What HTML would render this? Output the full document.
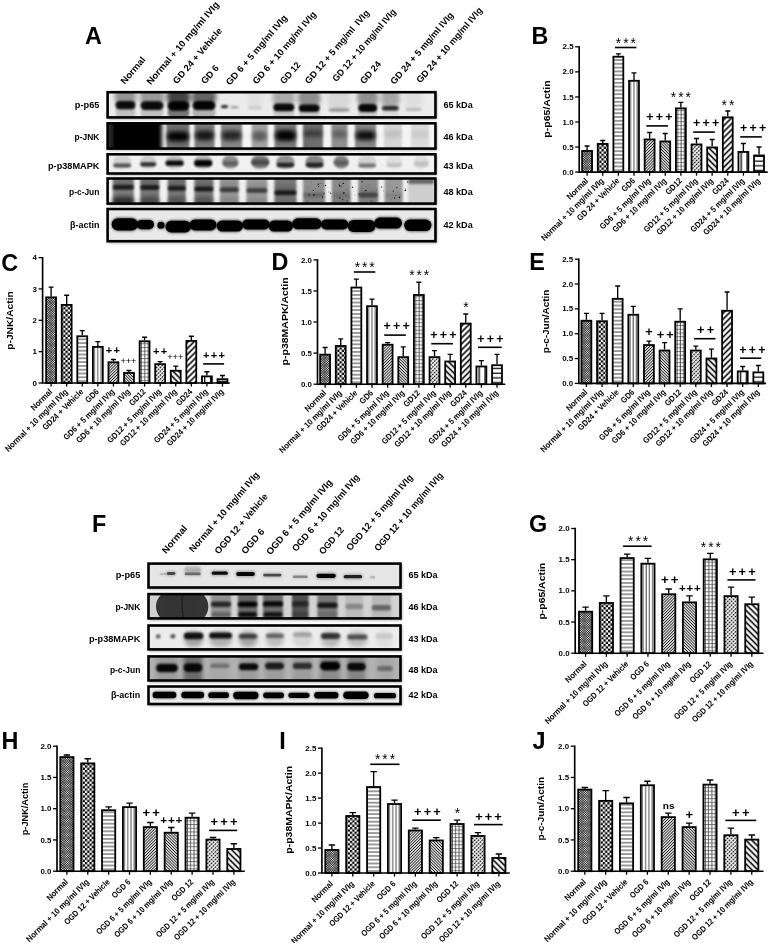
<!DOCTYPE html>
<html lang="en"><head><meta charset="utf-8"><title>Figure</title>
<style>html,body{margin:0;padding:0;background:#fff}svg{display:block;font-family:"Liberation Sans", sans-serif}</style></head><body>
<svg width="770" height="943" viewBox="0 0 770 943">
<rect width="770" height="943" fill="#fff"/>

<defs>
<pattern id="p1" width="1.65" height="1.65" patternUnits="userSpaceOnUse" patternTransform="rotate(45)"><rect width="1.65" height="1.65" fill="#fff"/><rect width="0.56" height="1.65" fill="#000"/><rect width="1.65" height="0.56" fill="#000"/></pattern>
<pattern id="p2" width="4.6" height="4.6" patternUnits="userSpaceOnUse"><rect width="4.6" height="4.6" fill="#fff"/><rect width="2.3" height="2.3" fill="#000"/><rect x="2.3" y="2.3" width="2.3" height="2.3" fill="#000"/></pattern>
<pattern id="p3" width="4" height="3.8" patternUnits="userSpaceOnUse"><rect width="4" height="3.8" fill="#fff"/><rect y="1.4" width="4" height="1" fill="#3a3a3a"/></pattern>
<pattern id="p4" width="3.2" height="4" patternUnits="userSpaceOnUse"><rect width="3.2" height="4" fill="#fff"/><rect x="2.1" width="0.9" height="4" fill="#3a3a3a"/></pattern>
<pattern id="p5" width="2.05" height="2.05" patternUnits="userSpaceOnUse" patternTransform="rotate(-45)"><rect width="2.05" height="2.05" fill="#fff"/><rect y="0.6" width="2.05" height="0.9" fill="#111"/></pattern>
<pattern id="p6" width="2.05" height="2.05" patternUnits="userSpaceOnUse" patternTransform="rotate(45)"><rect width="2.05" height="2.05" fill="#fff"/><rect y="0.6" width="2.05" height="0.9" fill="#111"/></pattern>
<pattern id="p7" width="3.3" height="3.7" patternUnits="userSpaceOnUse"><rect width="3.3" height="3.7" fill="#fff"/><rect y="1.2" width="3.3" height="0.72" fill="#555"/><rect x="2.3" width="0.8" height="3.7" fill="#2a2a2a"/></pattern>
<pattern id="p8" width="2.7" height="2.7" patternUnits="userSpaceOnUse" patternTransform="rotate(-45)"><rect width="2.7" height="2.7" fill="#fff"/><rect y="0.8" width="2.7" height="1.25" fill="#111"/><rect x="0" width="0.75" height="2.7" fill="#fff"/></pattern>
<pattern id="p9" width="4.2" height="4.2" patternUnits="userSpaceOnUse" patternTransform="rotate(45)"><rect width="4.2" height="4.2" fill="#fff"/><rect y="1.3" width="4.2" height="1.6" fill="#000"/></pattern>
<pattern id="p10" width="4.2" height="4.2" patternUnits="userSpaceOnUse" patternTransform="rotate(-45)"><rect width="4.2" height="4.2" fill="#fff"/><rect y="1.3" width="4.2" height="1.6" fill="#000"/></pattern>
<pattern id="p11" width="5.9" height="4" patternUnits="userSpaceOnUse"><rect width="5.9" height="4" fill="#fff"/><rect x="3.0" width="1.3" height="4" fill="#000"/></pattern>
<pattern id="p12" width="4" height="4.7" patternUnits="userSpaceOnUse"><rect width="4" height="4.7" fill="#fff"/><rect y="2.5" width="4" height="1.2" fill="#000"/></pattern>
<filter id="b1" x="-50%" y="-50%" width="200%" height="200%"><feGaussianBlur stdDeviation="1.1"/></filter>
<filter id="b2" x="-50%" y="-50%" width="200%" height="200%"><feGaussianBlur stdDeviation="2"/></filter>
<filter id="b3" x="-50%" y="-50%" width="200%" height="200%"><feGaussianBlur stdDeviation="3.2"/></filter>
<filter id="b0" x="-50%" y="-50%" width="200%" height="200%"><feGaussianBlur stdDeviation="0.6"/></filter>
</defs>

<g id="B">
<path d="M587.10 150.05V146.04M584.61 146.04H589.59" stroke="#000" stroke-width="1.35" fill="none"/>
<g transform="translate(581.25 172.10)"><rect x="0.9" y="-21.15" width="9.90" height="21.15" fill="url(#p1)" stroke="#000" stroke-width="1.8"/></g>
<path d="M587.10 172.10v3.6" stroke="#000" stroke-width="1.3"/>
<text transform="translate(588.80 181.40) rotate(-45) scale(0.915 1)" font-size="8.4" font-weight="bold" text-anchor="end" fill="#000" >Normal</text>
<path d="M602.73 143.03V140.52M600.24 140.52H605.22" stroke="#000" stroke-width="1.35" fill="none"/>
<g transform="translate(596.88 172.10)"><rect x="0.9" y="-28.17" width="9.90" height="28.17" fill="url(#p2)" stroke="#000" stroke-width="1.8"/></g>
<path d="M602.73 172.10v3.6" stroke="#000" stroke-width="1.3"/>
<text transform="translate(604.43 181.40) rotate(-45) scale(0.915 1)" font-size="8.4" font-weight="bold" text-anchor="end" fill="#000" >Normal + 10 mg/ml IVIg</text>
<path d="M618.36 55.82V53.82M615.87 53.82H620.85" stroke="#000" stroke-width="1.35" fill="none"/>
<g transform="translate(612.51 172.10)"><rect x="0.9" y="-115.38" width="9.90" height="115.38" fill="url(#p3)" stroke="#000" stroke-width="1.8"/></g>
<path d="M618.36 172.10v3.6" stroke="#000" stroke-width="1.3"/>
<text transform="translate(620.06 181.40) rotate(-45) scale(0.895 1)" font-size="8.4" font-weight="bold" text-anchor="end" fill="#000" >GD 24 + Vehicle</text>
<path d="M633.99 79.88V72.86M631.50 72.86H636.48" stroke="#000" stroke-width="1.35" fill="none"/>
<g transform="translate(628.14 172.10)"><rect x="0.9" y="-91.32" width="9.90" height="91.32" fill="url(#p4)" stroke="#000" stroke-width="1.8"/></g>
<path d="M633.99 172.10v3.6" stroke="#000" stroke-width="1.3"/>
<text transform="translate(635.69 181.40) rotate(-45) scale(0.895 1)" font-size="8.4" font-weight="bold" text-anchor="end" fill="#000" >GD6</text>
<path d="M649.62 138.52V132.51M647.13 132.51H652.11" stroke="#000" stroke-width="1.35" fill="none"/>
<g transform="translate(643.77 172.10)"><rect x="0.9" y="-32.68" width="9.90" height="32.68" fill="url(#p5)" stroke="#000" stroke-width="1.8"/></g>
<path d="M649.62 172.10v3.6" stroke="#000" stroke-width="1.3"/>
<text transform="translate(651.32 181.40) rotate(-45) scale(0.895 1)" font-size="8.4" font-weight="bold" text-anchor="end" fill="#000" >GD6 + 5 mg/ml IVIg</text>
<path d="M665.25 140.52V133.51M662.76 133.51H667.74" stroke="#000" stroke-width="1.35" fill="none"/>
<g transform="translate(659.40 172.10)"><rect x="0.9" y="-30.68" width="9.90" height="30.68" fill="url(#p6)" stroke="#000" stroke-width="1.8"/></g>
<path d="M665.25 172.10v3.6" stroke="#000" stroke-width="1.3"/>
<text transform="translate(666.95 181.40) rotate(-45) scale(0.895 1)" font-size="8.4" font-weight="bold" text-anchor="end" fill="#000" >GD6 + 10 mg/ml IVIg</text>
<path d="M680.88 107.45V102.43M678.39 102.43H683.37" stroke="#000" stroke-width="1.35" fill="none"/>
<g transform="translate(675.03 172.10)"><rect x="0.9" y="-63.75" width="9.90" height="63.75" fill="url(#p7)" stroke="#000" stroke-width="1.8"/></g>
<path d="M680.88 172.10v3.6" stroke="#000" stroke-width="1.3"/>
<text transform="translate(682.58 181.40) rotate(-45) scale(0.895 1)" font-size="8.4" font-weight="bold" text-anchor="end" fill="#000" >GD12</text>
<path d="M696.51 143.53V138.52M694.02 138.52H699.00" stroke="#000" stroke-width="1.35" fill="none"/>
<g transform="translate(690.66 172.10)"><rect x="0.9" y="-27.67" width="9.90" height="27.67" fill="url(#p8)" stroke="#000" stroke-width="1.8"/></g>
<path d="M696.51 172.10v3.6" stroke="#000" stroke-width="1.3"/>
<text transform="translate(698.21 181.40) rotate(-45) scale(0.895 1)" font-size="8.4" font-weight="bold" text-anchor="end" fill="#000" >GD12 + 5 mg/ml IVIg</text>
<path d="M712.14 146.54V139.52M709.65 139.52H714.63" stroke="#000" stroke-width="1.35" fill="none"/>
<g transform="translate(706.29 172.10)"><rect x="0.9" y="-24.66" width="9.90" height="24.66" fill="url(#p9)" stroke="#000" stroke-width="1.8"/></g>
<path d="M712.14 172.10v3.6" stroke="#000" stroke-width="1.3"/>
<text transform="translate(713.84 181.40) rotate(-45) scale(0.895 1)" font-size="8.4" font-weight="bold" text-anchor="end" fill="#000" >GD12 + 10 mg/ml IVIg</text>
<path d="M727.77 116.47V110.95M725.28 110.95H730.26" stroke="#000" stroke-width="1.35" fill="none"/>
<g transform="translate(721.92 172.10)"><rect x="0.9" y="-54.73" width="9.90" height="54.73" fill="url(#p10)" stroke="#000" stroke-width="1.8"/></g>
<path d="M727.77 172.10v3.6" stroke="#000" stroke-width="1.3"/>
<text transform="translate(729.47 181.40) rotate(-45) scale(0.895 1)" font-size="8.4" font-weight="bold" text-anchor="end" fill="#000" >GD24</text>
<path d="M743.40 151.05V143.53M740.91 143.53H745.89" stroke="#000" stroke-width="1.35" fill="none"/>
<g transform="translate(737.55 172.10)"><rect x="0.9" y="-20.15" width="9.90" height="20.15" fill="url(#p11)" stroke="#000" stroke-width="1.8"/></g>
<path d="M743.40 172.10v3.6" stroke="#000" stroke-width="1.3"/>
<text transform="translate(745.10 181.40) rotate(-45) scale(0.895 1)" font-size="8.4" font-weight="bold" text-anchor="end" fill="#000" >GD24 + 5 mg/ml IVIg</text>
<path d="M759.03 154.56V147.04M756.54 147.04H761.52" stroke="#000" stroke-width="1.35" fill="none"/>
<g transform="translate(753.18 172.10)"><rect x="0.9" y="-16.64" width="9.90" height="16.64" fill="url(#p12)" stroke="#000" stroke-width="1.8"/></g>
<path d="M759.03 172.10v3.6" stroke="#000" stroke-width="1.3"/>
<text transform="translate(760.73 181.40) rotate(-45) scale(0.895 1)" font-size="8.4" font-weight="bold" text-anchor="end" fill="#000" >GD24 + 10 mg/ml IVIg</text>
<path d="M579.20 46.15V172.10H767.70" stroke="#000" stroke-width="1.65" fill="none" stroke-linejoin="miter"/>
<path d="M579.20 172.10h-4" stroke="#000" stroke-width="1.3"/>
<text transform="translate(573.60 174.70) scale(1.1 1)" font-size="7.2" font-weight="bold" text-anchor="end" fill="#000" >0.0</text>
<path d="M579.20 147.04h-4" stroke="#000" stroke-width="1.3"/>
<text transform="translate(573.60 149.64) scale(1.1 1)" font-size="7.2" font-weight="bold" text-anchor="end" fill="#000" >0.5</text>
<path d="M579.20 121.98h-4" stroke="#000" stroke-width="1.3"/>
<text transform="translate(573.60 124.58) scale(1.1 1)" font-size="7.2" font-weight="bold" text-anchor="end" fill="#000" >1.0</text>
<path d="M579.20 96.92h-4" stroke="#000" stroke-width="1.3"/>
<text transform="translate(573.60 99.52) scale(1.1 1)" font-size="7.2" font-weight="bold" text-anchor="end" fill="#000" >1.5</text>
<path d="M579.20 71.86h-4" stroke="#000" stroke-width="1.3"/>
<text transform="translate(573.60 74.46) scale(1.1 1)" font-size="7.2" font-weight="bold" text-anchor="end" fill="#000" >2.0</text>
<path d="M579.20 46.80h-4" stroke="#000" stroke-width="1.3"/>
<text transform="translate(573.60 49.40) scale(1.1 1)" font-size="7.2" font-weight="bold" text-anchor="end" fill="#000" >2.5</text>
<text transform="translate(549.60 137.70) rotate(-90)" font-size="9.6" font-weight="bold" text-anchor="start" fill="#000" textLength="57.4" lengthAdjust="spacingAndGlyphs">p-p65/Actin</text>
<text transform="translate(531.50 44.00)" font-size="23.4" font-weight="bold" text-anchor="start" fill="#000" >B</text>
<text transform="translate(615.83 47.51)" font-size="13.76" font-weight="normal" text-anchor="start" fill="#000" letter-spacing="1.95">***</text>
<path d="M615.00 47.50H636.40" stroke="#000" stroke-width="1.6"/>
<text transform="translate(646.18 120.92)" font-size="12.4" font-weight="bold" text-anchor="start" fill="#000" letter-spacing="2.26">+++</text>
<path d="M646.40 125.90H668.00" stroke="#000" stroke-width="1.6"/>
<text transform="translate(670.83 102.26)" font-size="13.76" font-weight="normal" text-anchor="start" fill="#000" letter-spacing="1.95">***</text>
<text transform="translate(693.08 127.32)" font-size="12.4" font-weight="bold" text-anchor="start" fill="#000" letter-spacing="2.26">+++</text>
<path d="M693.20 132.10H714.80" stroke="#000" stroke-width="1.6"/>
<text transform="translate(721.58 109.76)" font-size="13.76" font-weight="normal" text-anchor="start" fill="#000" letter-spacing="1.95">**</text>
<text transform="translate(739.98 132.42)" font-size="12.4" font-weight="bold" text-anchor="start" fill="#000" letter-spacing="2.26">+++</text>
<path d="M740.20 136.90H761.80" stroke="#000" stroke-width="1.6"/>
</g>
<g id="C">
<path d="M51.10 296.47V287.07M48.61 287.07H53.59" stroke="#000" stroke-width="1.35" fill="none"/>
<g transform="translate(45.25 383.00)"><rect x="0.9" y="-85.63" width="9.90" height="85.63" fill="url(#p1)" stroke="#000" stroke-width="1.8"/></g>
<path d="M51.10 383.00v3.6" stroke="#000" stroke-width="1.3"/>
<text transform="translate(52.80 392.30) rotate(-45) scale(0.915 1)" font-size="8.4" font-weight="bold" text-anchor="end" fill="#000" >Normal</text>
<path d="M66.68 304.00V295.22M64.19 295.22H69.17" stroke="#000" stroke-width="1.35" fill="none"/>
<g transform="translate(60.83 383.00)"><rect x="0.9" y="-78.10" width="9.90" height="78.10" fill="url(#p2)" stroke="#000" stroke-width="1.8"/></g>
<path d="M66.68 383.00v3.6" stroke="#000" stroke-width="1.3"/>
<text transform="translate(68.38 392.30) rotate(-45) scale(0.915 1)" font-size="8.4" font-weight="bold" text-anchor="end" fill="#000" >Normal + 10 mg/ml IVIg</text>
<path d="M82.26 335.35V330.65M79.77 330.65H84.75" stroke="#000" stroke-width="1.35" fill="none"/>
<g transform="translate(76.41 383.00)"><rect x="0.9" y="-46.75" width="9.90" height="46.75" fill="url(#p3)" stroke="#000" stroke-width="1.8"/></g>
<path d="M82.26 383.00v3.6" stroke="#000" stroke-width="1.3"/>
<text transform="translate(83.96 392.30) rotate(-45) scale(0.895 1)" font-size="8.4" font-weight="bold" text-anchor="end" fill="#000" >GD24 + Vehicle</text>
<path d="M97.84 346.01V341.62M95.35 341.62H100.33" stroke="#000" stroke-width="1.35" fill="none"/>
<g transform="translate(91.99 383.00)"><rect x="0.9" y="-36.09" width="9.90" height="36.09" fill="url(#p4)" stroke="#000" stroke-width="1.8"/></g>
<path d="M97.84 383.00v3.6" stroke="#000" stroke-width="1.3"/>
<text transform="translate(99.54 392.30) rotate(-45) scale(0.895 1)" font-size="8.4" font-weight="bold" text-anchor="end" fill="#000" >GD6</text>
<path d="M113.42 361.37V359.49M110.93 359.49H115.91" stroke="#000" stroke-width="1.35" fill="none"/>
<g transform="translate(107.57 383.00)"><rect x="0.9" y="-20.73" width="9.90" height="20.73" fill="url(#p5)" stroke="#000" stroke-width="1.8"/></g>
<path d="M113.42 383.00v3.6" stroke="#000" stroke-width="1.3"/>
<text transform="translate(115.12 392.30) rotate(-45) scale(0.895 1)" font-size="8.4" font-weight="bold" text-anchor="end" fill="#000" >GD6 + 5 mg/ml IVIg</text>
<path d="M129.00 372.03V370.46M126.51 370.46H131.49" stroke="#000" stroke-width="1.35" fill="none"/>
<g transform="translate(123.15 383.00)"><rect x="0.9" y="-10.07" width="9.90" height="10.07" fill="url(#p6)" stroke="#000" stroke-width="1.8"/></g>
<path d="M129.00 383.00v3.6" stroke="#000" stroke-width="1.3"/>
<text transform="translate(130.70 392.30) rotate(-45) scale(0.895 1)" font-size="8.4" font-weight="bold" text-anchor="end" fill="#000" >GD6 + 10 mg/ml IVIg</text>
<path d="M144.58 340.36V337.23M142.09 337.23H147.07" stroke="#000" stroke-width="1.35" fill="none"/>
<g transform="translate(138.73 383.00)"><rect x="0.9" y="-41.74" width="9.90" height="41.74" fill="url(#p7)" stroke="#000" stroke-width="1.8"/></g>
<path d="M144.58 383.00v3.6" stroke="#000" stroke-width="1.3"/>
<text transform="translate(146.28 392.30) rotate(-45) scale(0.895 1)" font-size="8.4" font-weight="bold" text-anchor="end" fill="#000" >GD12</text>
<path d="M160.16 363.25V361.68M157.67 361.68H162.65" stroke="#000" stroke-width="1.35" fill="none"/>
<g transform="translate(154.31 383.00)"><rect x="0.9" y="-18.85" width="9.90" height="18.85" fill="url(#p8)" stroke="#000" stroke-width="1.8"/></g>
<path d="M160.16 383.00v3.6" stroke="#000" stroke-width="1.3"/>
<text transform="translate(161.86 392.30) rotate(-45) scale(0.895 1)" font-size="8.4" font-weight="bold" text-anchor="end" fill="#000" >GD12 + 5 mg/ml IVIg</text>
<path d="M175.74 369.83V366.07M173.25 366.07H178.23" stroke="#000" stroke-width="1.35" fill="none"/>
<g transform="translate(169.89 383.00)"><rect x="0.9" y="-12.27" width="9.90" height="12.27" fill="url(#p9)" stroke="#000" stroke-width="1.8"/></g>
<path d="M175.74 383.00v3.6" stroke="#000" stroke-width="1.3"/>
<text transform="translate(177.44 392.30) rotate(-45) scale(0.895 1)" font-size="8.4" font-weight="bold" text-anchor="end" fill="#000" >GD12 + 10 mg/ml IVIg</text>
<path d="M191.32 340.05V336.29M188.83 336.29H193.81" stroke="#000" stroke-width="1.35" fill="none"/>
<g transform="translate(185.47 383.00)"><rect x="0.9" y="-42.05" width="9.90" height="42.05" fill="url(#p10)" stroke="#000" stroke-width="1.8"/></g>
<path d="M191.32 383.00v3.6" stroke="#000" stroke-width="1.3"/>
<text transform="translate(193.02 392.30) rotate(-45) scale(0.895 1)" font-size="8.4" font-weight="bold" text-anchor="end" fill="#000" >GD24</text>
<path d="M206.90 375.48V371.71M204.41 371.71H209.39" stroke="#000" stroke-width="1.35" fill="none"/>
<g transform="translate(201.05 383.00)"><rect x="0.9" y="-6.62" width="9.90" height="6.62" fill="url(#p11)" stroke="#000" stroke-width="1.8"/></g>
<path d="M206.90 383.00v3.6" stroke="#000" stroke-width="1.3"/>
<text transform="translate(208.60 392.30) rotate(-45) scale(0.895 1)" font-size="8.4" font-weight="bold" text-anchor="end" fill="#000" >GD24 + 5 mg/ml IVIg</text>
<path d="M222.48 378.30V375.48M219.99 375.48H224.97" stroke="#000" stroke-width="1.35" fill="none"/>
<g transform="translate(216.63 383.00)"><rect x="0.9" y="-3.80" width="9.90" height="3.80" fill="url(#p12)" stroke="#000" stroke-width="1.8"/></g>
<path d="M222.48 383.00v3.6" stroke="#000" stroke-width="1.3"/>
<text transform="translate(224.18 392.30) rotate(-45) scale(0.895 1)" font-size="8.4" font-weight="bold" text-anchor="end" fill="#000" >GD24 + 10 mg/ml IVIg</text>
<path d="M42.60 256.95V383.00H229.80" stroke="#000" stroke-width="1.65" fill="none" stroke-linejoin="miter"/>
<path d="M42.60 383.00h-4" stroke="#000" stroke-width="1.3"/>
<text transform="translate(37.00 385.60) scale(1.1 1)" font-size="7.2" font-weight="bold" text-anchor="end" fill="#000" >0</text>
<path d="M42.60 351.65h-4" stroke="#000" stroke-width="1.3"/>
<text transform="translate(37.00 354.25) scale(1.1 1)" font-size="7.2" font-weight="bold" text-anchor="end" fill="#000" >1</text>
<path d="M42.60 320.30h-4" stroke="#000" stroke-width="1.3"/>
<text transform="translate(37.00 322.90) scale(1.1 1)" font-size="7.2" font-weight="bold" text-anchor="end" fill="#000" >2</text>
<path d="M42.60 288.95h-4" stroke="#000" stroke-width="1.3"/>
<text transform="translate(37.00 291.55) scale(1.1 1)" font-size="7.2" font-weight="bold" text-anchor="end" fill="#000" >3</text>
<path d="M42.60 257.60h-4" stroke="#000" stroke-width="1.3"/>
<text transform="translate(37.00 260.20) scale(1.1 1)" font-size="7.2" font-weight="bold" text-anchor="end" fill="#000" >4</text>
<text transform="translate(13.30 349.75) rotate(-90)" font-size="9.6" font-weight="bold" text-anchor="start" fill="#000" textLength="58.5" lengthAdjust="spacingAndGlyphs">p-JNK/Actin</text>
<text transform="translate(1.20 270.60)" font-size="23.4" font-weight="bold" text-anchor="start" fill="#000" >C</text>
<text transform="translate(105.79 354.16)" font-size="11.0" font-weight="bold" text-anchor="start" fill="#000" letter-spacing="1.38">++</text>
<text transform="translate(120.40 364.09)" font-size="9.28" font-weight="normal" text-anchor="start" fill="#000" letter-spacing="-0.12">+++</text>
<text transform="translate(152.89 355.36)" font-size="11.0" font-weight="bold" text-anchor="start" fill="#000" letter-spacing="1.38">++</text>
<text transform="translate(167.30 360.49)" font-size="9.28" font-weight="normal" text-anchor="start" fill="#000" letter-spacing="-0.12">+++</text>
<text transform="translate(203.09 359.16)" font-size="11.0" font-weight="bold" text-anchor="start" fill="#000" letter-spacing="1.28">+++</text>
<path d="M203.20 363.90H224.10" stroke="#000" stroke-width="1.6"/>
</g>
<g id="D">
<path d="M325.10 353.75V347.53M322.61 347.53H327.59" stroke="#000" stroke-width="1.35" fill="none"/>
<g transform="translate(319.25 384.20)"><rect x="0.9" y="-29.55" width="9.90" height="29.55" fill="url(#p1)" stroke="#000" stroke-width="1.8"/></g>
<path d="M325.10 384.20v3.6" stroke="#000" stroke-width="1.3"/>
<text transform="translate(326.80 393.50) rotate(-45) scale(0.915 1)" font-size="8.4" font-weight="bold" text-anchor="end" fill="#000" >Normal</text>
<path d="M340.73 345.05V338.83M338.24 338.83H343.22" stroke="#000" stroke-width="1.35" fill="none"/>
<g transform="translate(334.88 384.20)"><rect x="0.9" y="-38.25" width="9.90" height="38.25" fill="url(#p2)" stroke="#000" stroke-width="1.8"/></g>
<path d="M340.73 384.20v3.6" stroke="#000" stroke-width="1.3"/>
<text transform="translate(342.43 393.50) rotate(-45) scale(0.915 1)" font-size="8.4" font-weight="bold" text-anchor="end" fill="#000" >Normal + 10 mg/ml IVIg</text>
<path d="M356.36 286.62V279.17M353.87 279.17H358.85" stroke="#000" stroke-width="1.35" fill="none"/>
<g transform="translate(350.51 384.20)"><rect x="0.9" y="-96.68" width="9.90" height="96.68" fill="url(#p3)" stroke="#000" stroke-width="1.8"/></g>
<path d="M356.36 384.20v3.6" stroke="#000" stroke-width="1.3"/>
<text transform="translate(358.06 393.50) rotate(-45) scale(0.895 1)" font-size="8.4" font-weight="bold" text-anchor="end" fill="#000" >GD24 + Vehicle</text>
<path d="M371.99 305.27V299.05M369.50 299.05H374.48" stroke="#000" stroke-width="1.35" fill="none"/>
<g transform="translate(366.14 384.20)"><rect x="0.9" y="-78.03" width="9.90" height="78.03" fill="url(#p4)" stroke="#000" stroke-width="1.8"/></g>
<path d="M371.99 384.20v3.6" stroke="#000" stroke-width="1.3"/>
<text transform="translate(373.69 393.50) rotate(-45) scale(0.895 1)" font-size="8.4" font-weight="bold" text-anchor="end" fill="#000" >GD6</text>
<path d="M387.62 343.80V342.56M385.13 342.56H390.11" stroke="#000" stroke-width="1.35" fill="none"/>
<g transform="translate(381.77 384.20)"><rect x="0.9" y="-39.50" width="9.90" height="39.50" fill="url(#p5)" stroke="#000" stroke-width="1.8"/></g>
<path d="M387.62 384.20v3.6" stroke="#000" stroke-width="1.3"/>
<text transform="translate(389.32 393.50) rotate(-45) scale(0.895 1)" font-size="8.4" font-weight="bold" text-anchor="end" fill="#000" >GD6 + 5 mg/ml IVIg</text>
<path d="M403.25 356.23V346.91M400.76 346.91H405.74" stroke="#000" stroke-width="1.35" fill="none"/>
<g transform="translate(397.40 384.20)"><rect x="0.9" y="-27.07" width="9.90" height="27.07" fill="url(#p6)" stroke="#000" stroke-width="1.8"/></g>
<path d="M403.25 384.20v3.6" stroke="#000" stroke-width="1.3"/>
<text transform="translate(404.95 393.50) rotate(-45) scale(0.895 1)" font-size="8.4" font-weight="bold" text-anchor="end" fill="#000" >GD6 + 10 mg/ml IVIg</text>
<path d="M418.88 294.08V282.27M416.39 282.27H421.37" stroke="#000" stroke-width="1.35" fill="none"/>
<g transform="translate(413.03 384.20)"><rect x="0.9" y="-89.22" width="9.90" height="89.22" fill="url(#p7)" stroke="#000" stroke-width="1.8"/></g>
<path d="M418.88 384.20v3.6" stroke="#000" stroke-width="1.3"/>
<text transform="translate(420.58 393.50) rotate(-45) scale(0.895 1)" font-size="8.4" font-weight="bold" text-anchor="end" fill="#000" >GD12</text>
<path d="M434.51 356.23V350.64M432.02 350.64H437.00" stroke="#000" stroke-width="1.35" fill="none"/>
<g transform="translate(428.66 384.20)"><rect x="0.9" y="-27.07" width="9.90" height="27.07" fill="url(#p8)" stroke="#000" stroke-width="1.8"/></g>
<path d="M434.51 384.20v3.6" stroke="#000" stroke-width="1.3"/>
<text transform="translate(436.21 393.50) rotate(-45) scale(0.895 1)" font-size="8.4" font-weight="bold" text-anchor="end" fill="#000" >GD12 + 5 mg/ml IVIg</text>
<path d="M450.14 360.58V354.37M447.65 354.37H452.63" stroke="#000" stroke-width="1.35" fill="none"/>
<g transform="translate(444.29 384.20)"><rect x="0.9" y="-22.72" width="9.90" height="22.72" fill="url(#p9)" stroke="#000" stroke-width="1.8"/></g>
<path d="M450.14 384.20v3.6" stroke="#000" stroke-width="1.3"/>
<text transform="translate(451.84 393.50) rotate(-45) scale(0.895 1)" font-size="8.4" font-weight="bold" text-anchor="end" fill="#000" >GD12 + 10 mg/ml IVIg</text>
<path d="M465.77 322.67V313.97M463.28 313.97H468.26" stroke="#000" stroke-width="1.35" fill="none"/>
<g transform="translate(459.92 384.20)"><rect x="0.9" y="-60.63" width="9.90" height="60.63" fill="url(#p10)" stroke="#000" stroke-width="1.8"/></g>
<path d="M465.77 384.20v3.6" stroke="#000" stroke-width="1.3"/>
<text transform="translate(467.47 393.50) rotate(-45) scale(0.895 1)" font-size="8.4" font-weight="bold" text-anchor="end" fill="#000" >GD24</text>
<path d="M481.40 365.56V360.58M478.91 360.58H483.89" stroke="#000" stroke-width="1.35" fill="none"/>
<g transform="translate(475.55 384.20)"><rect x="0.9" y="-17.74" width="9.90" height="17.74" fill="url(#p11)" stroke="#000" stroke-width="1.8"/></g>
<path d="M481.40 384.20v3.6" stroke="#000" stroke-width="1.3"/>
<text transform="translate(483.10 393.50) rotate(-45) scale(0.895 1)" font-size="8.4" font-weight="bold" text-anchor="end" fill="#000" >GD24 + 5 mg/ml IVIg</text>
<path d="M497.03 364.31V354.37M494.54 354.37H499.52" stroke="#000" stroke-width="1.35" fill="none"/>
<g transform="translate(491.18 384.20)"><rect x="0.9" y="-18.99" width="9.90" height="18.99" fill="url(#p12)" stroke="#000" stroke-width="1.8"/></g>
<path d="M497.03 384.20v3.6" stroke="#000" stroke-width="1.3"/>
<text transform="translate(498.73 393.50) rotate(-45) scale(0.895 1)" font-size="8.4" font-weight="bold" text-anchor="end" fill="#000" >GD24 + 10 mg/ml IVIg</text>
<path d="M317.50 259.25V384.20H505.30" stroke="#000" stroke-width="1.65" fill="none" stroke-linejoin="miter"/>
<path d="M317.50 384.20h-4" stroke="#000" stroke-width="1.3"/>
<text transform="translate(311.90 386.80) scale(1.1 1)" font-size="7.2" font-weight="bold" text-anchor="end" fill="#000" >0.0</text>
<path d="M317.50 353.12h-4" stroke="#000" stroke-width="1.3"/>
<text transform="translate(311.90 355.73) scale(1.1 1)" font-size="7.2" font-weight="bold" text-anchor="end" fill="#000" >0.5</text>
<path d="M317.50 322.05h-4" stroke="#000" stroke-width="1.3"/>
<text transform="translate(311.90 324.65) scale(1.1 1)" font-size="7.2" font-weight="bold" text-anchor="end" fill="#000" >1.0</text>
<path d="M317.50 290.97h-4" stroke="#000" stroke-width="1.3"/>
<text transform="translate(311.90 293.57) scale(1.1 1)" font-size="7.2" font-weight="bold" text-anchor="end" fill="#000" >1.5</text>
<path d="M317.50 259.90h-4" stroke="#000" stroke-width="1.3"/>
<text transform="translate(311.90 262.50) scale(1.1 1)" font-size="7.2" font-weight="bold" text-anchor="end" fill="#000" >2.0</text>
<text transform="translate(287.50 365.40) rotate(-90)" font-size="9.6" font-weight="bold" text-anchor="start" fill="#000" textLength="88" lengthAdjust="spacingAndGlyphs">p-p38MAPK/Actin</text>
<text transform="translate(271.50 270.40)" font-size="23.4" font-weight="bold" text-anchor="start" fill="#000" >D</text>
<text transform="translate(354.63 271.76)" font-size="13.76" font-weight="normal" text-anchor="start" fill="#000" letter-spacing="1.95">***</text>
<path d="M353.90 272.00H375.30" stroke="#000" stroke-width="1.6"/>
<text transform="translate(383.48 330.22)" font-size="12.4" font-weight="bold" text-anchor="start" fill="#000" letter-spacing="2.26">+++</text>
<path d="M384.20 335.10H405.80" stroke="#000" stroke-width="1.6"/>
<text transform="translate(409.13 280.36)" font-size="13.76" font-weight="normal" text-anchor="start" fill="#000" letter-spacing="1.95">***</text>
<text transform="translate(430.28 338.62)" font-size="12.4" font-weight="bold" text-anchor="start" fill="#000" letter-spacing="2.26">+++</text>
<path d="M431.20 343.70H453.00" stroke="#000" stroke-width="1.6"/>
<text transform="translate(463.13 312.36)" font-size="13.76" font-weight="normal" text-anchor="start" fill="#000" letter-spacing="1.95">*</text>
<text transform="translate(477.18 342.52)" font-size="12.4" font-weight="bold" text-anchor="start" fill="#000" letter-spacing="2.26">+++</text>
<path d="M478.00 347.30H501.80" stroke="#000" stroke-width="1.6"/>
</g>
<g id="E">
<path d="M586.40 319.81V313.35M583.91 313.35H588.89" stroke="#000" stroke-width="1.35" fill="none"/>
<g transform="translate(580.55 383.40)"><rect x="0.9" y="-62.69" width="9.90" height="62.69" fill="url(#p1)" stroke="#000" stroke-width="1.8"/></g>
<path d="M586.40 383.40v3.6" stroke="#000" stroke-width="1.3"/>
<text transform="translate(588.10 392.70) rotate(-45) scale(0.915 1)" font-size="8.4" font-weight="bold" text-anchor="end" fill="#000" >Normal</text>
<path d="M602.03 320.31V313.35M599.54 313.35H604.52" stroke="#000" stroke-width="1.35" fill="none"/>
<g transform="translate(596.18 383.40)"><rect x="0.9" y="-62.19" width="9.90" height="62.19" fill="url(#p2)" stroke="#000" stroke-width="1.8"/></g>
<path d="M602.03 383.40v3.6" stroke="#000" stroke-width="1.3"/>
<text transform="translate(603.73 392.70) rotate(-45) scale(0.915 1)" font-size="8.4" font-weight="bold" text-anchor="end" fill="#000" >Normal + 10 mg/ml IVIg</text>
<path d="M617.66 297.95V286.03M615.17 286.03H620.15" stroke="#000" stroke-width="1.35" fill="none"/>
<g transform="translate(611.81 383.40)"><rect x="0.9" y="-84.55" width="9.90" height="84.55" fill="url(#p3)" stroke="#000" stroke-width="1.8"/></g>
<path d="M617.66 383.40v3.6" stroke="#000" stroke-width="1.3"/>
<text transform="translate(619.36 392.70) rotate(-45) scale(0.895 1)" font-size="8.4" font-weight="bold" text-anchor="end" fill="#000" >GD24 + Vehicle</text>
<path d="M633.29 313.85V306.40M630.80 306.40H635.78" stroke="#000" stroke-width="1.35" fill="none"/>
<g transform="translate(627.44 383.40)"><rect x="0.9" y="-68.65" width="9.90" height="68.65" fill="url(#p4)" stroke="#000" stroke-width="1.8"/></g>
<path d="M633.29 383.40v3.6" stroke="#000" stroke-width="1.3"/>
<text transform="translate(634.99 392.70) rotate(-45) scale(0.895 1)" font-size="8.4" font-weight="bold" text-anchor="end" fill="#000" >GD6</text>
<path d="M648.92 344.15V341.17M646.43 341.17H651.41" stroke="#000" stroke-width="1.35" fill="none"/>
<g transform="translate(643.07 383.40)"><rect x="0.9" y="-38.35" width="9.90" height="38.35" fill="url(#p5)" stroke="#000" stroke-width="1.8"/></g>
<path d="M648.92 383.40v3.6" stroke="#000" stroke-width="1.3"/>
<text transform="translate(650.62 392.70) rotate(-45) scale(0.895 1)" font-size="8.4" font-weight="bold" text-anchor="end" fill="#000" >GD6 + 5 mg/ml IVIg</text>
<path d="M664.55 349.62V342.66M662.06 342.66H667.04" stroke="#000" stroke-width="1.35" fill="none"/>
<g transform="translate(658.70 383.40)"><rect x="0.9" y="-32.88" width="9.90" height="32.88" fill="url(#p6)" stroke="#000" stroke-width="1.8"/></g>
<path d="M664.55 383.40v3.6" stroke="#000" stroke-width="1.3"/>
<text transform="translate(666.25 392.70) rotate(-45) scale(0.895 1)" font-size="8.4" font-weight="bold" text-anchor="end" fill="#000" >GD6 + 10 mg/ml IVIg</text>
<path d="M680.18 320.80V308.88M677.69 308.88H682.67" stroke="#000" stroke-width="1.35" fill="none"/>
<g transform="translate(674.33 383.40)"><rect x="0.9" y="-61.70" width="9.90" height="61.70" fill="url(#p7)" stroke="#000" stroke-width="1.8"/></g>
<path d="M680.18 383.40v3.6" stroke="#000" stroke-width="1.3"/>
<text transform="translate(681.88 392.70) rotate(-45) scale(0.895 1)" font-size="8.4" font-weight="bold" text-anchor="end" fill="#000" >GD12</text>
<path d="M695.81 349.62V346.14M693.32 346.14H698.30" stroke="#000" stroke-width="1.35" fill="none"/>
<g transform="translate(689.96 383.40)"><rect x="0.9" y="-32.88" width="9.90" height="32.88" fill="url(#p8)" stroke="#000" stroke-width="1.8"/></g>
<path d="M695.81 383.40v3.6" stroke="#000" stroke-width="1.3"/>
<text transform="translate(697.51 392.70) rotate(-45) scale(0.895 1)" font-size="8.4" font-weight="bold" text-anchor="end" fill="#000" >GD12 + 5 mg/ml IVIg</text>
<path d="M711.44 357.57V349.12M708.95 349.12H713.93" stroke="#000" stroke-width="1.35" fill="none"/>
<g transform="translate(705.59 383.40)"><rect x="0.9" y="-24.93" width="9.90" height="24.93" fill="url(#p9)" stroke="#000" stroke-width="1.8"/></g>
<path d="M711.44 383.40v3.6" stroke="#000" stroke-width="1.3"/>
<text transform="translate(713.14 392.70) rotate(-45) scale(0.895 1)" font-size="8.4" font-weight="bold" text-anchor="end" fill="#000" >GD12 + 10 mg/ml IVIg</text>
<path d="M727.07 309.87V291.99M724.58 291.99H729.56" stroke="#000" stroke-width="1.35" fill="none"/>
<g transform="translate(721.22 383.40)"><rect x="0.9" y="-72.63" width="9.90" height="72.63" fill="url(#p10)" stroke="#000" stroke-width="1.8"/></g>
<path d="M727.07 383.40v3.6" stroke="#000" stroke-width="1.3"/>
<text transform="translate(728.77 392.70) rotate(-45) scale(0.895 1)" font-size="8.4" font-weight="bold" text-anchor="end" fill="#000" >GD24</text>
<path d="M742.70 370.48V366.51M740.21 366.51H745.19" stroke="#000" stroke-width="1.35" fill="none"/>
<g transform="translate(736.85 383.40)"><rect x="0.9" y="-12.02" width="9.90" height="12.02" fill="url(#p11)" stroke="#000" stroke-width="1.8"/></g>
<path d="M742.70 383.40v3.6" stroke="#000" stroke-width="1.3"/>
<text transform="translate(744.40 392.70) rotate(-45) scale(0.895 1)" font-size="8.4" font-weight="bold" text-anchor="end" fill="#000" >GD24 + 5 mg/ml IVIg</text>
<path d="M758.33 371.48V365.52M755.84 365.52H760.82" stroke="#000" stroke-width="1.35" fill="none"/>
<g transform="translate(752.48 383.40)"><rect x="0.9" y="-11.02" width="9.90" height="11.02" fill="url(#p12)" stroke="#000" stroke-width="1.8"/></g>
<path d="M758.33 383.40v3.6" stroke="#000" stroke-width="1.3"/>
<text transform="translate(760.03 392.70) rotate(-45) scale(0.895 1)" font-size="8.4" font-weight="bold" text-anchor="end" fill="#000" >GD24 + 10 mg/ml IVIg</text>
<path d="M578.80 258.55V383.40H766.00" stroke="#000" stroke-width="1.65" fill="none" stroke-linejoin="miter"/>
<path d="M578.80 383.40h-4" stroke="#000" stroke-width="1.3"/>
<text transform="translate(573.20 386.00) scale(1.1 1)" font-size="7.2" font-weight="bold" text-anchor="end" fill="#000" >0.0</text>
<path d="M578.80 358.56h-4" stroke="#000" stroke-width="1.3"/>
<text transform="translate(573.20 361.16) scale(1.1 1)" font-size="7.2" font-weight="bold" text-anchor="end" fill="#000" >0.5</text>
<path d="M578.80 333.72h-4" stroke="#000" stroke-width="1.3"/>
<text transform="translate(573.20 336.32) scale(1.1 1)" font-size="7.2" font-weight="bold" text-anchor="end" fill="#000" >1.0</text>
<path d="M578.80 308.88h-4" stroke="#000" stroke-width="1.3"/>
<text transform="translate(573.20 311.48) scale(1.1 1)" font-size="7.2" font-weight="bold" text-anchor="end" fill="#000" >1.5</text>
<path d="M578.80 284.04h-4" stroke="#000" stroke-width="1.3"/>
<text transform="translate(573.20 286.64) scale(1.1 1)" font-size="7.2" font-weight="bold" text-anchor="end" fill="#000" >2.0</text>
<path d="M578.80 259.20h-4" stroke="#000" stroke-width="1.3"/>
<text transform="translate(573.20 261.80) scale(1.1 1)" font-size="7.2" font-weight="bold" text-anchor="end" fill="#000" >2.5</text>
<text transform="translate(548.90 353.20) rotate(-90)" font-size="9.6" font-weight="bold" text-anchor="start" fill="#000" textLength="63.6" lengthAdjust="spacingAndGlyphs">p-c-Jun/Actin</text>
<text transform="translate(529.20 270.30)" font-size="23.4" font-weight="bold" text-anchor="start" fill="#000" >E</text>
<text transform="translate(645.36 335.76)" font-size="12.8" font-weight="bold" text-anchor="start" fill="#000" letter-spacing="2.02">+</text>
<text transform="translate(656.76 339.16)" font-size="12.8" font-weight="bold" text-anchor="start" fill="#000" letter-spacing="2.12">++</text>
<text transform="translate(697.06 333.76)" font-size="12.8" font-weight="bold" text-anchor="start" fill="#000" letter-spacing="2.12">++</text>
<path d="M694.00 338.70H715.50" stroke="#000" stroke-width="1.6"/>
<text transform="translate(739.28 354.12)" font-size="12.4" font-weight="bold" text-anchor="start" fill="#000" letter-spacing="2.26">+++</text>
<path d="M740.00 358.20H761.30" stroke="#000" stroke-width="1.6"/>
</g>
<g id="G">
<path d="M585.60 610.80V607.06M582.40 607.06H588.80" stroke="#000" stroke-width="1.35" fill="none"/>
<g transform="translate(578.10 653.20)"><rect x="0.9" y="-41.50" width="13.20" height="41.50" fill="url(#p1)" stroke="#000" stroke-width="1.8"/></g>
<path d="M585.60 653.20v3.6" stroke="#000" stroke-width="1.3"/>
<text transform="translate(587.30 664.50) rotate(-45) scale(0.915 1)" font-size="8.4" font-weight="bold" text-anchor="end" fill="#000" >Normal</text>
<path d="M606.38 602.07V595.84M603.18 595.84H609.58" stroke="#000" stroke-width="1.35" fill="none"/>
<g transform="translate(598.88 653.20)"><rect x="0.9" y="-50.23" width="13.20" height="50.23" fill="url(#p2)" stroke="#000" stroke-width="1.8"/></g>
<path d="M606.38 653.20v3.6" stroke="#000" stroke-width="1.3"/>
<text transform="translate(608.08 664.50) rotate(-45) scale(0.915 1)" font-size="8.4" font-weight="bold" text-anchor="end" fill="#000" >Normal + 10 mg/ml IVIg</text>
<path d="M627.16 557.18V554.06M623.97 554.06H630.36" stroke="#000" stroke-width="1.35" fill="none"/>
<g transform="translate(619.66 653.20)"><rect x="0.9" y="-95.12" width="13.20" height="95.12" fill="url(#p3)" stroke="#000" stroke-width="1.8"/></g>
<path d="M627.16 653.20v3.6" stroke="#000" stroke-width="1.3"/>
<text transform="translate(628.86 664.50) rotate(-45) scale(0.875 1)" font-size="8.4" font-weight="bold" text-anchor="end" fill="#000" >OGD 12 + Vehicle</text>
<path d="M647.94 562.79V558.43M644.75 558.43H651.14" stroke="#000" stroke-width="1.35" fill="none"/>
<g transform="translate(640.44 653.20)"><rect x="0.9" y="-89.51" width="13.20" height="89.51" fill="url(#p4)" stroke="#000" stroke-width="1.8"/></g>
<path d="M647.94 653.20v3.6" stroke="#000" stroke-width="1.3"/>
<text transform="translate(649.64 664.50) rotate(-45) scale(0.875 1)" font-size="8.4" font-weight="bold" text-anchor="end" fill="#000" >OGD 6</text>
<path d="M668.72 593.34V588.98M665.52 588.98H671.92" stroke="#000" stroke-width="1.35" fill="none"/>
<g transform="translate(661.22 653.20)"><rect x="0.9" y="-58.96" width="13.20" height="58.96" fill="url(#p5)" stroke="#000" stroke-width="1.8"/></g>
<path d="M668.72 653.20v3.6" stroke="#000" stroke-width="1.3"/>
<text transform="translate(670.42 664.50) rotate(-45) scale(0.875 1)" font-size="8.4" font-weight="bold" text-anchor="end" fill="#000" >OGD 6 + 5 mg/ml IVIg</text>
<path d="M689.50 601.45V595.84M686.30 595.84H692.70" stroke="#000" stroke-width="1.35" fill="none"/>
<g transform="translate(682.00 653.20)"><rect x="0.9" y="-50.85" width="13.20" height="50.85" fill="url(#p6)" stroke="#000" stroke-width="1.8"/></g>
<path d="M689.50 653.20v3.6" stroke="#000" stroke-width="1.3"/>
<text transform="translate(691.20 664.50) rotate(-45) scale(0.875 1)" font-size="8.4" font-weight="bold" text-anchor="end" fill="#000" >OGD 6 + 10 mg/ml IVIg</text>
<path d="M710.28 558.43V553.44M707.08 553.44H713.48" stroke="#000" stroke-width="1.35" fill="none"/>
<g transform="translate(702.78 653.20)"><rect x="0.9" y="-93.87" width="13.20" height="93.87" fill="url(#p7)" stroke="#000" stroke-width="1.8"/></g>
<path d="M710.28 653.20v3.6" stroke="#000" stroke-width="1.3"/>
<text transform="translate(711.98 664.50) rotate(-45) scale(0.875 1)" font-size="8.4" font-weight="bold" text-anchor="end" fill="#000" >OGD 12</text>
<path d="M731.06 595.21V587.11M727.87 587.11H734.26" stroke="#000" stroke-width="1.35" fill="none"/>
<g transform="translate(723.56 653.20)"><rect x="0.9" y="-57.09" width="13.20" height="57.09" fill="url(#p8)" stroke="#000" stroke-width="1.8"/></g>
<path d="M731.06 653.20v3.6" stroke="#000" stroke-width="1.3"/>
<text transform="translate(732.76 664.50) rotate(-45) scale(0.875 1)" font-size="8.4" font-weight="bold" text-anchor="end" fill="#000" >OGD 12 + 5 mg/ml IVIg</text>
<path d="M751.84 603.32V597.09M748.64 597.09H755.04" stroke="#000" stroke-width="1.35" fill="none"/>
<g transform="translate(744.34 653.20)"><rect x="0.9" y="-48.98" width="13.20" height="48.98" fill="url(#p9)" stroke="#000" stroke-width="1.8"/></g>
<path d="M751.84 653.20v3.6" stroke="#000" stroke-width="1.3"/>
<text transform="translate(753.54 664.50) rotate(-45) scale(0.875 1)" font-size="8.4" font-weight="bold" text-anchor="end" fill="#000" >OGD 12 + 10 mg/ml IVIg</text>
<path d="M575.20 527.85V653.20H763.50" stroke="#000" stroke-width="1.65" fill="none" stroke-linejoin="miter"/>
<path d="M575.20 653.20h-4" stroke="#000" stroke-width="1.3"/>
<text transform="translate(569.60 655.80) scale(1.1 1)" font-size="7.2" font-weight="bold" text-anchor="end" fill="#000" >0.0</text>
<path d="M575.20 622.03h-4" stroke="#000" stroke-width="1.3"/>
<text transform="translate(569.60 624.63) scale(1.1 1)" font-size="7.2" font-weight="bold" text-anchor="end" fill="#000" >0.5</text>
<path d="M575.20 590.85h-4" stroke="#000" stroke-width="1.3"/>
<text transform="translate(569.60 593.45) scale(1.1 1)" font-size="7.2" font-weight="bold" text-anchor="end" fill="#000" >1.0</text>
<path d="M575.20 559.67h-4" stroke="#000" stroke-width="1.3"/>
<text transform="translate(569.60 562.27) scale(1.1 1)" font-size="7.2" font-weight="bold" text-anchor="end" fill="#000" >1.5</text>
<path d="M575.20 528.50h-4" stroke="#000" stroke-width="1.3"/>
<text transform="translate(569.60 531.10) scale(1.1 1)" font-size="7.2" font-weight="bold" text-anchor="end" fill="#000" >2.0</text>
<text transform="translate(544.80 619.55) rotate(-90)" font-size="9.6" font-weight="bold" text-anchor="start" fill="#000" textLength="56.7" lengthAdjust="spacingAndGlyphs">p-p65/Actin</text>
<text transform="translate(529.00 532.30)" font-size="23.4" font-weight="bold" text-anchor="start" fill="#000" >G</text>
<text transform="translate(628.08 546.16)" font-size="13.76" font-weight="normal" text-anchor="start" fill="#000" letter-spacing="1.95">***</text>
<path d="M623.10 546.20H651.60" stroke="#000" stroke-width="1.6"/>
<text transform="translate(660.95 583.99)" font-size="13.2" font-weight="bold" text-anchor="start" fill="#000" letter-spacing="2.09">++</text>
<text transform="translate(679.11 592.26)" font-size="11.6" font-weight="bold" text-anchor="start" fill="#000" letter-spacing="0.73">+++</text>
<text transform="translate(700.83 552.26)" font-size="13.76" font-weight="normal" text-anchor="start" fill="#000" letter-spacing="1.95">***</text>
<text transform="translate(728.96 575.76)" font-size="12.8" font-weight="bold" text-anchor="start" fill="#000" letter-spacing="2.12">+++</text>
<path d="M727.40 579.90H755.50" stroke="#000" stroke-width="1.6"/>
</g>
<g id="H">
<path d="M66.90 756.20V754.95M63.71 754.95H70.09" stroke="#000" stroke-width="1.35" fill="none"/>
<g transform="translate(59.40 871.20)"><rect x="0.9" y="-114.10" width="13.20" height="114.10" fill="url(#p1)" stroke="#000" stroke-width="1.8"/></g>
<path d="M66.90 871.20v3.6" stroke="#000" stroke-width="1.3"/>
<text transform="translate(68.60 882.50) rotate(-45) scale(0.915 1)" font-size="8.4" font-weight="bold" text-anchor="end" fill="#000" >Normal</text>
<path d="M87.77 762.45V758.70M84.58 758.70H90.97" stroke="#000" stroke-width="1.35" fill="none"/>
<g transform="translate(80.27 871.20)"><rect x="0.9" y="-107.85" width="13.20" height="107.85" fill="url(#p2)" stroke="#000" stroke-width="1.8"/></g>
<path d="M87.77 871.20v3.6" stroke="#000" stroke-width="1.3"/>
<text transform="translate(89.47 882.50) rotate(-45) scale(0.915 1)" font-size="8.4" font-weight="bold" text-anchor="end" fill="#000" >Normal + 10 mg/ml IVIg</text>
<path d="M108.64 809.33V806.83M105.45 806.83H111.84" stroke="#000" stroke-width="1.35" fill="none"/>
<g transform="translate(101.14 871.20)"><rect x="0.9" y="-60.98" width="13.20" height="60.98" fill="url(#p3)" stroke="#000" stroke-width="1.8"/></g>
<path d="M108.64 871.20v3.6" stroke="#000" stroke-width="1.3"/>
<text transform="translate(110.34 882.50) rotate(-45) scale(0.875 1)" font-size="8.4" font-weight="bold" text-anchor="end" fill="#000" >OGD 12 + Vehicle</text>
<path d="M129.51 806.20V803.08M126.31 803.08H132.70" stroke="#000" stroke-width="1.35" fill="none"/>
<g transform="translate(122.01 871.20)"><rect x="0.9" y="-64.10" width="13.20" height="64.10" fill="url(#p4)" stroke="#000" stroke-width="1.8"/></g>
<path d="M129.51 871.20v3.6" stroke="#000" stroke-width="1.3"/>
<text transform="translate(131.21 882.50) rotate(-45) scale(0.875 1)" font-size="8.4" font-weight="bold" text-anchor="end" fill="#000" >OGD 6</text>
<path d="M150.38 826.20V822.45M147.19 822.45H153.57" stroke="#000" stroke-width="1.35" fill="none"/>
<g transform="translate(142.88 871.20)"><rect x="0.9" y="-44.10" width="13.20" height="44.10" fill="url(#p5)" stroke="#000" stroke-width="1.8"/></g>
<path d="M150.38 871.20v3.6" stroke="#000" stroke-width="1.3"/>
<text transform="translate(152.08 882.50) rotate(-45) scale(0.875 1)" font-size="8.4" font-weight="bold" text-anchor="end" fill="#000" >OGD 6 + 5 mg/ml IVIg</text>
<path d="M171.25 831.83V827.45M168.06 827.45H174.44" stroke="#000" stroke-width="1.35" fill="none"/>
<g transform="translate(163.75 871.20)"><rect x="0.9" y="-38.48" width="13.20" height="38.48" fill="url(#p6)" stroke="#000" stroke-width="1.8"/></g>
<path d="M171.25 871.20v3.6" stroke="#000" stroke-width="1.3"/>
<text transform="translate(172.95 882.50) rotate(-45) scale(0.875 1)" font-size="8.4" font-weight="bold" text-anchor="end" fill="#000" >OGD 6 + 10 mg/ml IVIg</text>
<path d="M192.12 816.83V813.08M188.93 813.08H195.31" stroke="#000" stroke-width="1.35" fill="none"/>
<g transform="translate(184.62 871.20)"><rect x="0.9" y="-53.48" width="13.20" height="53.48" fill="url(#p7)" stroke="#000" stroke-width="1.8"/></g>
<path d="M192.12 871.20v3.6" stroke="#000" stroke-width="1.3"/>
<text transform="translate(193.82 882.50) rotate(-45) scale(0.875 1)" font-size="8.4" font-weight="bold" text-anchor="end" fill="#000" >OGD 12</text>
<path d="M212.99 838.70V837.45M209.80 837.45H216.19" stroke="#000" stroke-width="1.35" fill="none"/>
<g transform="translate(205.49 871.20)"><rect x="0.9" y="-31.60" width="13.20" height="31.60" fill="url(#p8)" stroke="#000" stroke-width="1.8"/></g>
<path d="M212.99 871.20v3.6" stroke="#000" stroke-width="1.3"/>
<text transform="translate(214.69 882.50) rotate(-45) scale(0.875 1)" font-size="8.4" font-weight="bold" text-anchor="end" fill="#000" >OGD 12 + 5 mg/ml IVIg</text>
<path d="M233.86 848.08V843.70M230.67 843.70H237.06" stroke="#000" stroke-width="1.35" fill="none"/>
<g transform="translate(226.36 871.20)"><rect x="0.9" y="-22.23" width="13.20" height="22.23" fill="url(#p9)" stroke="#000" stroke-width="1.8"/></g>
<path d="M233.86 871.20v3.6" stroke="#000" stroke-width="1.3"/>
<text transform="translate(235.56 882.50) rotate(-45) scale(0.875 1)" font-size="8.4" font-weight="bold" text-anchor="end" fill="#000" >OGD 12 + 10 mg/ml IVIg</text>
<path d="M57.00 745.55V871.20H244.80" stroke="#000" stroke-width="1.65" fill="none" stroke-linejoin="miter"/>
<path d="M57.00 871.20h-4" stroke="#000" stroke-width="1.3"/>
<text transform="translate(51.40 873.80) scale(1.1 1)" font-size="7.2" font-weight="bold" text-anchor="end" fill="#000" >0.0</text>
<path d="M57.00 839.95h-4" stroke="#000" stroke-width="1.3"/>
<text transform="translate(51.40 842.55) scale(1.1 1)" font-size="7.2" font-weight="bold" text-anchor="end" fill="#000" >0.5</text>
<path d="M57.00 808.70h-4" stroke="#000" stroke-width="1.3"/>
<text transform="translate(51.40 811.30) scale(1.1 1)" font-size="7.2" font-weight="bold" text-anchor="end" fill="#000" >1.0</text>
<path d="M57.00 777.45h-4" stroke="#000" stroke-width="1.3"/>
<text transform="translate(51.40 780.05) scale(1.1 1)" font-size="7.2" font-weight="bold" text-anchor="end" fill="#000" >1.5</text>
<path d="M57.00 746.20h-4" stroke="#000" stroke-width="1.3"/>
<text transform="translate(51.40 748.80) scale(1.1 1)" font-size="7.2" font-weight="bold" text-anchor="end" fill="#000" >2.0</text>
<text transform="translate(27.50 835.25) rotate(-90)" font-size="8.6" font-weight="bold" text-anchor="start" fill="#000" textLength="52.5" lengthAdjust="spacingAndGlyphs">p-JNK/Actin</text>
<text transform="translate(1.40 749.00)" font-size="23.4" font-weight="bold" text-anchor="start" fill="#000" >H</text>
<text transform="translate(142.40 817.22)" font-size="13.0" font-weight="bold" text-anchor="start" fill="#000" letter-spacing="2.21">++</text>
<text transform="translate(160.35 823.82)" font-size="11.8" font-weight="bold" text-anchor="start" fill="#000" letter-spacing="0.71">+++</text>
<text transform="translate(210.50 825.82)" font-size="13.0" font-weight="bold" text-anchor="start" fill="#000" letter-spacing="2.21">+++</text>
<path d="M209.20 830.40H237.20" stroke="#000" stroke-width="1.6"/>
</g>
<g id="I">
<path d="M331.90 849.04V845.04M328.70 845.04H335.09" stroke="#000" stroke-width="1.35" fill="none"/>
<g transform="translate(324.40 873.00)"><rect x="0.9" y="-23.06" width="13.20" height="23.06" fill="url(#p1)" stroke="#000" stroke-width="1.8"/></g>
<path d="M331.90 873.00v3.6" stroke="#000" stroke-width="1.3"/>
<text transform="translate(333.60 884.30) rotate(-45) scale(0.915 1)" font-size="8.4" font-weight="bold" text-anchor="end" fill="#000" >Normal</text>
<path d="M352.77 815.09V812.60M349.57 812.60H355.96" stroke="#000" stroke-width="1.35" fill="none"/>
<g transform="translate(345.27 873.00)"><rect x="0.9" y="-57.01" width="13.20" height="57.01" fill="url(#p2)" stroke="#000" stroke-width="1.8"/></g>
<path d="M352.77 873.00v3.6" stroke="#000" stroke-width="1.3"/>
<text transform="translate(354.47 884.30) rotate(-45) scale(0.915 1)" font-size="8.4" font-weight="bold" text-anchor="end" fill="#000" >Normal + 10 mg/ml IVIg</text>
<path d="M373.64 786.14V771.66M370.44 771.66H376.83" stroke="#000" stroke-width="1.35" fill="none"/>
<g transform="translate(366.14 873.00)"><rect x="0.9" y="-85.96" width="13.20" height="85.96" fill="url(#p3)" stroke="#000" stroke-width="1.8"/></g>
<path d="M373.64 873.00v3.6" stroke="#000" stroke-width="1.3"/>
<text transform="translate(375.34 884.30) rotate(-45) scale(0.875 1)" font-size="8.4" font-weight="bold" text-anchor="end" fill="#000" >OGD 12 + Vehicle</text>
<path d="M394.51 803.11V800.12M391.31 800.12H397.70" stroke="#000" stroke-width="1.35" fill="none"/>
<g transform="translate(387.01 873.00)"><rect x="0.9" y="-68.99" width="13.20" height="68.99" fill="url(#p4)" stroke="#000" stroke-width="1.8"/></g>
<path d="M394.51 873.00v3.6" stroke="#000" stroke-width="1.3"/>
<text transform="translate(396.21 884.30) rotate(-45) scale(0.875 1)" font-size="8.4" font-weight="bold" text-anchor="end" fill="#000" >OGD 6</text>
<path d="M415.38 829.57V828.07M412.19 828.07H418.57" stroke="#000" stroke-width="1.35" fill="none"/>
<g transform="translate(407.88 873.00)"><rect x="0.9" y="-42.53" width="13.20" height="42.53" fill="url(#p5)" stroke="#000" stroke-width="1.8"/></g>
<path d="M415.38 873.00v3.6" stroke="#000" stroke-width="1.3"/>
<text transform="translate(417.08 884.30) rotate(-45) scale(0.875 1)" font-size="8.4" font-weight="bold" text-anchor="end" fill="#000" >OGD 6 + 5 mg/ml IVIg</text>
<path d="M436.25 839.55V837.56M433.06 837.56H439.44" stroke="#000" stroke-width="1.35" fill="none"/>
<g transform="translate(428.75 873.00)"><rect x="0.9" y="-32.55" width="13.20" height="32.55" fill="url(#p6)" stroke="#000" stroke-width="1.8"/></g>
<path d="M436.25 873.00v3.6" stroke="#000" stroke-width="1.3"/>
<text transform="translate(437.95 884.30) rotate(-45) scale(0.875 1)" font-size="8.4" font-weight="bold" text-anchor="end" fill="#000" >OGD 6 + 10 mg/ml IVIg</text>
<path d="M457.12 823.08V820.08M453.93 820.08H460.31" stroke="#000" stroke-width="1.35" fill="none"/>
<g transform="translate(449.62 873.00)"><rect x="0.9" y="-49.02" width="13.20" height="49.02" fill="url(#p7)" stroke="#000" stroke-width="1.8"/></g>
<path d="M457.12 873.00v3.6" stroke="#000" stroke-width="1.3"/>
<text transform="translate(458.82 884.30) rotate(-45) scale(0.875 1)" font-size="8.4" font-weight="bold" text-anchor="end" fill="#000" >OGD 12</text>
<path d="M477.99 835.06V832.56M474.80 832.56H481.19" stroke="#000" stroke-width="1.35" fill="none"/>
<g transform="translate(470.49 873.00)"><rect x="0.9" y="-37.04" width="13.20" height="37.04" fill="url(#p8)" stroke="#000" stroke-width="1.8"/></g>
<path d="M477.99 873.00v3.6" stroke="#000" stroke-width="1.3"/>
<text transform="translate(479.69 884.30) rotate(-45) scale(0.875 1)" font-size="8.4" font-weight="bold" text-anchor="end" fill="#000" >OGD 12 + 5 mg/ml IVIg</text>
<path d="M498.86 857.03V854.03M495.67 854.03H502.06" stroke="#000" stroke-width="1.35" fill="none"/>
<g transform="translate(491.36 873.00)"><rect x="0.9" y="-15.07" width="13.20" height="15.07" fill="url(#p9)" stroke="#000" stroke-width="1.8"/></g>
<path d="M498.86 873.00v3.6" stroke="#000" stroke-width="1.3"/>
<text transform="translate(500.56 884.30) rotate(-45) scale(0.875 1)" font-size="8.4" font-weight="bold" text-anchor="end" fill="#000" >OGD 12 + 10 mg/ml IVIg</text>
<path d="M321.90 747.55V873.00H509.80" stroke="#000" stroke-width="1.65" fill="none" stroke-linejoin="miter"/>
<path d="M321.90 873.00h-4" stroke="#000" stroke-width="1.3"/>
<text transform="translate(316.30 875.60) scale(1.1 1)" font-size="7.2" font-weight="bold" text-anchor="end" fill="#000" >0.0</text>
<path d="M321.90 848.04h-4" stroke="#000" stroke-width="1.3"/>
<text transform="translate(316.30 850.64) scale(1.1 1)" font-size="7.2" font-weight="bold" text-anchor="end" fill="#000" >0.5</text>
<path d="M321.90 823.08h-4" stroke="#000" stroke-width="1.3"/>
<text transform="translate(316.30 825.68) scale(1.1 1)" font-size="7.2" font-weight="bold" text-anchor="end" fill="#000" >1.0</text>
<path d="M321.90 798.12h-4" stroke="#000" stroke-width="1.3"/>
<text transform="translate(316.30 800.72) scale(1.1 1)" font-size="7.2" font-weight="bold" text-anchor="end" fill="#000" >1.5</text>
<path d="M321.90 773.16h-4" stroke="#000" stroke-width="1.3"/>
<text transform="translate(316.30 775.76) scale(1.1 1)" font-size="7.2" font-weight="bold" text-anchor="end" fill="#000" >2.0</text>
<path d="M321.90 748.20h-4" stroke="#000" stroke-width="1.3"/>
<text transform="translate(316.30 750.80) scale(1.1 1)" font-size="7.2" font-weight="bold" text-anchor="end" fill="#000" >2.5</text>
<text transform="translate(292.10 853.70) rotate(-90)" font-size="9.6" font-weight="bold" text-anchor="start" fill="#000" textLength="87.8" lengthAdjust="spacingAndGlyphs">p-p38MAPK/Actin</text>
<text transform="translate(279.30 748.80)" font-size="23.4" font-weight="bold" text-anchor="start" fill="#000" >I</text>
<text transform="translate(375.03 764.11)" font-size="13.76" font-weight="normal" text-anchor="start" fill="#000" letter-spacing="1.95">***</text>
<path d="M370.20 764.30H399.50" stroke="#000" stroke-width="1.6"/>
<text transform="translate(413.96 815.76)" font-size="12.8" font-weight="bold" text-anchor="start" fill="#000" letter-spacing="2.22">+++</text>
<path d="M412.30 820.20H440.80" stroke="#000" stroke-width="1.6"/>
<text transform="translate(454.73 817.96)" font-size="13.76" font-weight="normal" text-anchor="start" fill="#000" letter-spacing="1.95">*</text>
<text transform="translate(475.16 820.56)" font-size="12.8" font-weight="bold" text-anchor="start" fill="#000" letter-spacing="2.12">+++</text>
<path d="M474.00 824.60H502.70" stroke="#000" stroke-width="1.6"/>
</g>
<g id="J">
<path d="M584.80 788.70V787.45M581.60 787.45H588.00" stroke="#000" stroke-width="1.35" fill="none"/>
<g transform="translate(577.30 871.20)"><rect x="0.9" y="-81.60" width="13.20" height="81.60" fill="url(#p1)" stroke="#000" stroke-width="1.8"/></g>
<path d="M584.80 871.20v3.6" stroke="#000" stroke-width="1.3"/>
<text transform="translate(586.50 882.50) rotate(-45) scale(0.915 1)" font-size="8.4" font-weight="bold" text-anchor="end" fill="#000" >Normal</text>
<path d="M605.67 799.95V790.58M602.47 790.58H608.87" stroke="#000" stroke-width="1.35" fill="none"/>
<g transform="translate(598.17 871.20)"><rect x="0.9" y="-70.35" width="13.20" height="70.35" fill="url(#p2)" stroke="#000" stroke-width="1.8"/></g>
<path d="M605.67 871.20v3.6" stroke="#000" stroke-width="1.3"/>
<text transform="translate(607.37 882.50) rotate(-45) scale(0.915 1)" font-size="8.4" font-weight="bold" text-anchor="end" fill="#000" >Normal + 10 mg/ml IVIg</text>
<path d="M626.54 802.45V797.45M623.34 797.45H629.74" stroke="#000" stroke-width="1.35" fill="none"/>
<g transform="translate(619.04 871.20)"><rect x="0.9" y="-67.85" width="13.20" height="67.85" fill="url(#p3)" stroke="#000" stroke-width="1.8"/></g>
<path d="M626.54 871.20v3.6" stroke="#000" stroke-width="1.3"/>
<text transform="translate(628.24 882.50) rotate(-45) scale(0.875 1)" font-size="8.4" font-weight="bold" text-anchor="end" fill="#000" >OGD 12 + Vehicle</text>
<path d="M647.41 784.33V781.20M644.21 781.20H650.61" stroke="#000" stroke-width="1.35" fill="none"/>
<g transform="translate(639.91 871.20)"><rect x="0.9" y="-85.97" width="13.20" height="85.97" fill="url(#p4)" stroke="#000" stroke-width="1.8"/></g>
<path d="M647.41 871.20v3.6" stroke="#000" stroke-width="1.3"/>
<text transform="translate(649.11 882.50) rotate(-45) scale(0.875 1)" font-size="8.4" font-weight="bold" text-anchor="end" fill="#000" >OGD 6</text>
<path d="M668.28 816.20V813.08M665.08 813.08H671.48" stroke="#000" stroke-width="1.35" fill="none"/>
<g transform="translate(660.78 871.20)"><rect x="0.9" y="-54.10" width="13.20" height="54.10" fill="url(#p5)" stroke="#000" stroke-width="1.8"/></g>
<path d="M668.28 871.20v3.6" stroke="#000" stroke-width="1.3"/>
<text transform="translate(669.98 882.50) rotate(-45) scale(0.875 1)" font-size="8.4" font-weight="bold" text-anchor="end" fill="#000" >OGD 6 + 5 mg/ml IVIg</text>
<path d="M689.15 826.20V823.08M685.95 823.08H692.35" stroke="#000" stroke-width="1.35" fill="none"/>
<g transform="translate(681.65 871.20)"><rect x="0.9" y="-44.10" width="13.20" height="44.10" fill="url(#p6)" stroke="#000" stroke-width="1.8"/></g>
<path d="M689.15 871.20v3.6" stroke="#000" stroke-width="1.3"/>
<text transform="translate(690.85 882.50) rotate(-45) scale(0.875 1)" font-size="8.4" font-weight="bold" text-anchor="end" fill="#000" >OGD 6 + 10 mg/ml IVIg</text>
<path d="M710.02 783.70V779.95M706.82 779.95H713.22" stroke="#000" stroke-width="1.35" fill="none"/>
<g transform="translate(702.52 871.20)"><rect x="0.9" y="-86.60" width="13.20" height="86.60" fill="url(#p7)" stroke="#000" stroke-width="1.8"/></g>
<path d="M710.02 871.20v3.6" stroke="#000" stroke-width="1.3"/>
<text transform="translate(711.72 882.50) rotate(-45) scale(0.875 1)" font-size="8.4" font-weight="bold" text-anchor="end" fill="#000" >OGD 12</text>
<path d="M730.89 834.33V828.08M727.69 828.08H734.09" stroke="#000" stroke-width="1.35" fill="none"/>
<g transform="translate(723.39 871.20)"><rect x="0.9" y="-35.98" width="13.20" height="35.98" fill="url(#p8)" stroke="#000" stroke-width="1.8"/></g>
<path d="M730.89 871.20v3.6" stroke="#000" stroke-width="1.3"/>
<text transform="translate(732.59 882.50) rotate(-45) scale(0.875 1)" font-size="8.4" font-weight="bold" text-anchor="end" fill="#000" >OGD 12 + 5 mg/ml IVIg</text>
<path d="M751.76 838.70V834.95M748.56 834.95H754.96" stroke="#000" stroke-width="1.35" fill="none"/>
<g transform="translate(744.26 871.20)"><rect x="0.9" y="-31.60" width="13.20" height="31.60" fill="url(#p9)" stroke="#000" stroke-width="1.8"/></g>
<path d="M751.76 871.20v3.6" stroke="#000" stroke-width="1.3"/>
<text transform="translate(753.46 882.50) rotate(-45) scale(0.875 1)" font-size="8.4" font-weight="bold" text-anchor="end" fill="#000" >OGD 12 + 10 mg/ml IVIg</text>
<path d="M574.70 745.55V871.20H763.50" stroke="#000" stroke-width="1.65" fill="none" stroke-linejoin="miter"/>
<path d="M574.70 871.20h-4" stroke="#000" stroke-width="1.3"/>
<text transform="translate(569.10 873.80) scale(1.1 1)" font-size="7.2" font-weight="bold" text-anchor="end" fill="#000" >0.0</text>
<path d="M574.70 839.95h-4" stroke="#000" stroke-width="1.3"/>
<text transform="translate(569.10 842.55) scale(1.1 1)" font-size="7.2" font-weight="bold" text-anchor="end" fill="#000" >0.5</text>
<path d="M574.70 808.70h-4" stroke="#000" stroke-width="1.3"/>
<text transform="translate(569.10 811.30) scale(1.1 1)" font-size="7.2" font-weight="bold" text-anchor="end" fill="#000" >1.0</text>
<path d="M574.70 777.45h-4" stroke="#000" stroke-width="1.3"/>
<text transform="translate(569.10 780.05) scale(1.1 1)" font-size="7.2" font-weight="bold" text-anchor="end" fill="#000" >1.5</text>
<path d="M574.70 746.20h-4" stroke="#000" stroke-width="1.3"/>
<text transform="translate(569.10 748.80) scale(1.1 1)" font-size="7.2" font-weight="bold" text-anchor="end" fill="#000" >2.0</text>
<text transform="translate(544.30 840.60) rotate(-90)" font-size="9.6" font-weight="bold" text-anchor="start" fill="#000" textLength="63.6" lengthAdjust="spacingAndGlyphs">p-c-Jun/Actin</text>
<text transform="translate(532.40 749.00)" font-size="23.4" font-weight="bold" text-anchor="start" fill="#000" >J</text>
<text transform="translate(668.70 808.70) scale(1.08 1)" font-size="9.3" font-weight="bold" text-anchor="middle" fill="#000" >ns</text>
<text transform="translate(685.50 818.52)" font-size="13.0" font-weight="bold" text-anchor="start" fill="#000" letter-spacing="1.91">+</text>
<text transform="translate(732.10 816.62)" font-size="13.0" font-weight="bold" text-anchor="start" fill="#000" letter-spacing="2.21">++</text>
<path d="M725.30 820.40H756.30" stroke="#000" stroke-width="1.6"/>
</g>
<g id="A">
<text transform="translate(85.00 43.80)" font-size="23.4" font-weight="bold" text-anchor="start" fill="#000" >A</text>
<text transform="translate(124.80 84.80) rotate(-49.5)" font-size="9.2" font-weight="bold" text-anchor="start" fill="#000" textLength="32.5" lengthAdjust="spacingAndGlyphs" xml:space="preserve">Normal</text>
<text transform="translate(150.80 85.32) rotate(-49.5)" font-size="9.2" font-weight="bold" text-anchor="start" fill="#000" textLength="105.92" lengthAdjust="spacingAndGlyphs" xml:space="preserve">Normal + 10 mg/ml IVIg</text>
<text transform="translate(177.00 84.40) rotate(-49.5)" font-size="9.2" font-weight="bold" text-anchor="start" fill="#000" textLength="70.19" lengthAdjust="spacingAndGlyphs" xml:space="preserve">GD 24 + Vehicle</text>
<text transform="translate(205.30 84.60) rotate(-49.5)" font-size="9.2" font-weight="bold" text-anchor="start" fill="#000" textLength="21.4" lengthAdjust="spacingAndGlyphs" xml:space="preserve">GD 6</text>
<text transform="translate(230.00 85.80) rotate(-49.5)" font-size="9.2" font-weight="bold" text-anchor="start" fill="#000" textLength="89.05" lengthAdjust="spacingAndGlyphs" xml:space="preserve">GD 6 + 5 mg/ml IVIg</text>
<text transform="translate(256.76 84.81) rotate(-49.5)" font-size="9.2" font-weight="bold" text-anchor="start" fill="#000" textLength="92.36" lengthAdjust="spacingAndGlyphs" xml:space="preserve">GD 6 + 10 mg/ml IVIg</text>
<text transform="translate(284.30 84.60) rotate(-49.5)" font-size="9.2" font-weight="bold" text-anchor="start" fill="#000" textLength="25.5" lengthAdjust="spacingAndGlyphs" xml:space="preserve">GD 12</text>
<text transform="translate(309.00 84.39) rotate(-49.5)" font-size="9.2" font-weight="bold" text-anchor="start" fill="#000" textLength="93.59" lengthAdjust="spacingAndGlyphs" xml:space="preserve">GD 12 + 5 mg/ml  IVIg</text>
<text transform="translate(336.56 82.19) rotate(-49.5)" font-size="9.2" font-weight="bold" text-anchor="start" fill="#000" textLength="92.16" lengthAdjust="spacingAndGlyphs" xml:space="preserve">GD 12 + 10 mg/ml IVIg</text>
<text transform="translate(364.20 84.60) rotate(-49.5)" font-size="9.2" font-weight="bold" text-anchor="start" fill="#000" textLength="26.6" lengthAdjust="spacingAndGlyphs" xml:space="preserve">GD 24</text>
<text transform="translate(394.54 85.08) rotate(-49.5)" font-size="9.2" font-weight="bold" text-anchor="start" fill="#000" textLength="91.57" lengthAdjust="spacingAndGlyphs" xml:space="preserve">GD 24 + 5 mg/ml IVIg</text>
<text transform="translate(420.54 83.58) rotate(-49.5)" font-size="9.2" font-weight="bold" text-anchor="start" fill="#000" textLength="95.96" lengthAdjust="spacingAndGlyphs" xml:space="preserve">GD 24 + 10 mg/ml IVIg</text>
<clipPath id="c1"><rect x="107.6" y="92.2" width="327.85" height="25.20"/></clipPath>
<rect x="108.19999999999999" y="93.0" width="329.05" height="26.60" fill="#555" opacity="0.45" filter="url(#b1)"/>
<rect x="107.6" y="92.2" width="327.85" height="25.20" fill="#ebebeb"/>
<g clip-path="url(#c1)">
<rect x="114.5" y="87.2" width="22.0" height="19.0" rx="9.5" fill="#000" opacity="0.368" filter="url(#b2)"/>
<rect x="115.5" y="105.2" width="20.0" height="14.2" rx="7.1" fill="#000" opacity="0.18" filter="url(#b1)"/>
<rect x="115.5" y="101.1" width="20.0" height="8.2" rx="4.1" fill="#000" opacity="0.93" filter="url(#b1)"/>
<rect x="139.5" y="87.2" width="25.0" height="19.4" rx="9.7" fill="#000" opacity="0.345" filter="url(#b2)"/>
<rect x="140.5" y="105.6" width="23.0" height="13.8" rx="6.9" fill="#000" opacity="0.18" filter="url(#b1)"/>
<rect x="140.5" y="101.3" width="23.0" height="8.6" rx="4.3" fill="#000" opacity="0.93" filter="url(#b1)"/>
<rect x="166.5" y="87.2" width="24.0" height="19.8" rx="9.9" fill="#000" opacity="0.713" filter="url(#b2)"/>
<rect x="167.5" y="106.0" width="22.0" height="13.4" rx="6.7" fill="#000" opacity="0.5" filter="url(#b1)"/>
<rect x="167.5" y="101.2" width="22.0" height="9.5" rx="4.8" fill="#000" opacity="0.97" filter="url(#b1)"/>
<rect x="191.5" y="87.2" width="25.0" height="19.4" rx="9.7" fill="#000" opacity="0.575" filter="url(#b2)"/>
<rect x="192.5" y="105.6" width="23.0" height="13.8" rx="6.9" fill="#000" opacity="0.25" filter="url(#b1)"/>
<rect x="192.5" y="101.1" width="23.0" height="9.0" rx="4.5" fill="#000" opacity="0.97" filter="url(#b1)"/>
<rect x="221.0" y="105.0" width="7.0" height="3.2" rx="1.6" fill="#000" opacity="0.8" filter="url(#b1)"/>
<rect x="230.5" y="106.0" width="8.0" height="2.4" rx="1.2" fill="#000" opacity="0.3" filter="url(#b1)"/>
<rect x="247.0" y="87.2" width="16.0" height="21.8" rx="8.0" fill="#000" opacity="0.034499999999999996" filter="url(#b2)"/>
<rect x="248.0" y="106.0" width="14.0" height="4.0" rx="2.0" fill="#000" opacity="0.1" filter="url(#b1)"/>
<rect x="272.3" y="87.2" width="23.0" height="21.2" rx="10.6" fill="#000" opacity="0.27599999999999997" filter="url(#b2)"/>
<rect x="273.3" y="107.4" width="21.0" height="12.0" rx="6.0" fill="#000" opacity="0.15" filter="url(#b1)"/>
<rect x="273.3" y="103.6" width="21.0" height="7.6" rx="3.8" fill="#000" opacity="0.95" filter="url(#b1)"/>
<rect x="297.7" y="87.2" width="23.0" height="22.1" rx="11.0" fill="#000" opacity="0.391" filter="url(#b2)"/>
<rect x="298.7" y="108.3" width="21.0" height="11.1" rx="5.6" fill="#000" opacity="0.15" filter="url(#b1)"/>
<rect x="298.7" y="104.6" width="21.0" height="7.4" rx="3.7" fill="#000" opacity="0.95" filter="url(#b1)"/>
<rect x="327.5" y="87.2" width="23.0" height="23.8" rx="11.5" fill="#000" opacity="0.0805" filter="url(#b2)"/>
<rect x="328.5" y="108.3" width="21.0" height="3.4" rx="1.7" fill="#000" opacity="0.32" filter="url(#b1)"/>
<rect x="357.2" y="87.2" width="21.0" height="21.7" rx="10.5" fill="#000" opacity="0.391" filter="url(#b2)"/>
<rect x="358.2" y="107.9" width="19.0" height="11.5" rx="5.8" fill="#000" opacity="0.15" filter="url(#b1)"/>
<rect x="358.2" y="103.9" width="19.0" height="8.0" rx="4.0" fill="#000" opacity="0.97" filter="url(#b1)"/>
<rect x="380.8" y="87.2" width="19.0" height="22.1" rx="9.5" fill="#000" opacity="0.2875" filter="url(#b2)"/>
<rect x="381.8" y="108.3" width="17.0" height="11.1" rx="5.6" fill="#000" opacity="0.06" filter="url(#b1)"/>
<rect x="381.8" y="106.0" width="17.0" height="4.6" rx="2.3" fill="#000" opacity="0.78" filter="url(#b1)"/>
<rect x="404.5" y="87.2" width="18.0" height="23.4" rx="9.0" fill="#000" opacity="0.046" filter="url(#b2)"/>
<rect x="405.5" y="108.1" width="16.0" height="3.0" rx="1.5" fill="#000" opacity="0.18" filter="url(#b1)"/>
</g>
<rect x="107.6" y="92.2" width="327.85" height="25.20" fill="none" stroke="#000" stroke-width="2.6"/>
<text transform="translate(74.80 108.40)" font-size="9.3" font-weight="bold" text-anchor="start" fill="#000" textLength="24.6" lengthAdjust="spacingAndGlyphs">p-p65</text>
<text transform="translate(443.50 108.40)" font-size="9.4" font-weight="bold" text-anchor="start" fill="#000" textLength="29.2" lengthAdjust="spacingAndGlyphs">65 kDa</text>
<clipPath id="c2"><rect x="107.6" y="123.3" width="327.85" height="25.30"/></clipPath>
<rect x="108.19999999999999" y="124.1" width="329.05" height="26.70" fill="#555" opacity="0.45" filter="url(#b1)"/>
<rect x="107.6" y="123.3" width="327.85" height="25.30" fill="#f4f4f4"/>
<g clip-path="url(#c2)">
<rect x="112" y="117.3" width="50" height="37.3" fill="#000" filter="url(#b2)"/>
<rect x="114" y="120.3" width="44" height="31.299999999999997" fill="#000"/>
<rect x="100" y="120.3" width="16" height="31.299999999999997" fill="#000" opacity=".8" filter="url(#b2)"/>
<rect x="166.4" y="120.3" width="23" height="31.299999999999997" fill="#000" opacity="0.55" filter="url(#b1)"/>
<rect x="166.9" y="131.5" width="22.0" height="10.0" rx="5.0" fill="#000" opacity="0.97" filter="url(#b2)"/>
<rect x="194.5" y="120.3" width="20" height="31.299999999999997" fill="#000" opacity="0.5" filter="url(#b1)"/>
<rect x="195.0" y="130.5" width="19.0" height="10.0" rx="5.0" fill="#000" opacity="0.8" filter="url(#b2)"/>
<rect x="221.0" y="120.3" width="21" height="31.299999999999997" fill="#000" opacity="0.45" filter="url(#b1)"/>
<rect x="221.5" y="130.5" width="20.0" height="10.0" rx="5.0" fill="#000" opacity="0.7" filter="url(#b2)"/>
<rect x="251.7" y="120.3" width="16" height="31.299999999999997" fill="#000" opacity="0.33" filter="url(#b1)"/>
<rect x="252.2" y="131.0" width="15.0" height="10.0" rx="5.0" fill="#000" opacity="0.42" filter="url(#b2)"/>
<rect x="274.5" y="120.3" width="22" height="31.299999999999997" fill="#000" opacity="0.5" filter="url(#b1)"/>
<rect x="275.0" y="130.0" width="21.0" height="11.0" rx="5.5" fill="#000" opacity="0.97" filter="url(#b2)"/>
<rect x="303.0" y="120.3" width="20" height="31.299999999999997" fill="#000" opacity="0.55" filter="url(#b1)"/>
<rect x="303.5" y="130.0" width="19.0" height="7.0" rx="3.5" fill="#000" opacity="0.45" filter="url(#b2)"/>
<rect x="331.5" y="120.3" width="16" height="31.299999999999997" fill="#000" opacity="0.42" filter="url(#b1)"/>
<rect x="332.0" y="130.0" width="15.0" height="8.0" rx="4.0" fill="#000" opacity="0.3" filter="url(#b2)"/>
<rect x="355.0" y="120.3" width="21" height="31.299999999999997" fill="#000" opacity="0.45" filter="url(#b1)"/>
<rect x="355.5" y="130.8" width="20.0" height="9.5" rx="4.8" fill="#000" opacity="0.88" filter="url(#b2)"/>
<rect x="384.0" y="120.3" width="18" height="31.299999999999997" fill="#000" opacity="0.12" filter="url(#b1)"/>
<rect x="384.5" y="130.0" width="17.0" height="8.0" rx="4.0" fill="#000" opacity="0.1" filter="url(#b2)"/>
<rect x="411.0" y="120.3" width="18" height="31.299999999999997" fill="#000" opacity="0.1" filter="url(#b1)"/>
<rect x="411.5" y="130.0" width="17.0" height="8.0" rx="4.0" fill="#000" opacity="0.08" filter="url(#b2)"/>
</g>
<rect x="107.6" y="123.3" width="327.85" height="25.30" fill="none" stroke="#000" stroke-width="2.6"/>
<text transform="translate(74.50 140.10)" font-size="9.3" font-weight="bold" text-anchor="start" fill="#000" textLength="24.9" lengthAdjust="spacingAndGlyphs">p-JNK</text>
<text transform="translate(443.50 140.10)" font-size="9.4" font-weight="bold" text-anchor="start" fill="#000" textLength="29.2" lengthAdjust="spacingAndGlyphs">46 kDa</text>
<clipPath id="c3"><rect x="107.6" y="154.3" width="327.85" height="19.20"/></clipPath>
<rect x="108.19999999999999" y="155.10000000000002" width="329.05" height="20.60" fill="#555" opacity="0.45" filter="url(#b1)"/>
<rect x="107.6" y="154.3" width="327.85" height="19.20" fill="#f1f1f1"/>
<g clip-path="url(#c3)">
<rect x="113.2" y="155.5" width="18.0" height="13.0" rx="6.5" fill="#000" opacity="0.12" filter="url(#b1)"/>
<rect x="113.2" y="163.6" width="18.0" height="3.8" rx="1.9" fill="#000" opacity="0.62" filter="url(#b1)"/>
<rect x="140.2" y="155.5" width="16.0" height="13.0" rx="6.5" fill="#000" opacity="0.15" filter="url(#b1)"/>
<rect x="140.2" y="162.2" width="16.0" height="4.2" rx="2.1" fill="#000" opacity="0.78" filter="url(#b1)"/>
<rect x="165.6" y="155.5" width="18.0" height="13.0" rx="6.5" fill="#000" opacity="0.2" filter="url(#b1)"/>
<rect x="165.6" y="160.6" width="18.0" height="5.2" rx="2.6" fill="#000" opacity="0.95" filter="url(#b1)"/>
<rect x="194.2" y="155.5" width="18.0" height="13.0" rx="6.5" fill="#000" opacity="0.25" filter="url(#b1)"/>
<rect x="194.2" y="160.0" width="18.0" height="6.4" rx="3.2" fill="#000" opacity="0.98" filter="url(#b1)"/>
<rect x="222.3" y="155.5" width="16.0" height="13.0" rx="6.5" fill="#000" opacity="0.4" filter="url(#b1)"/>
<rect x="222.3" y="161.0" width="16.0" height="5.0" rx="2.5" fill="#000" opacity="0.32" filter="url(#b1)"/>
<rect x="251.2" y="155.5" width="18.0" height="13.0" rx="6.5" fill="#000" opacity="0.5" filter="url(#b1)"/>
<rect x="251.2" y="160.0" width="18.0" height="5.0" rx="2.5" fill="#000" opacity="0.38" filter="url(#b1)"/>
<rect x="276.4" y="155.5" width="18.0" height="13.0" rx="6.5" fill="#000" opacity="0.4" filter="url(#b1)"/>
<rect x="276.4" y="162.7" width="18.0" height="4.6" rx="2.3" fill="#000" opacity="0.75" filter="url(#b1)"/>
<rect x="305.6" y="155.5" width="18.0" height="13.0" rx="6.5" fill="#000" opacity="0.45" filter="url(#b1)"/>
<rect x="305.6" y="162.7" width="18.0" height="4.6" rx="2.3" fill="#000" opacity="0.75" filter="url(#b1)"/>
<rect x="333.7" y="155.5" width="15.0" height="13.0" rx="6.5" fill="#000" opacity="0.45" filter="url(#b1)"/>
<rect x="333.7" y="160.5" width="15.0" height="5.0" rx="2.5" fill="#000" opacity="0.28" filter="url(#b1)"/>
<rect x="358.1" y="155.5" width="18.0" height="13.0" rx="6.5" fill="#000" opacity="0.12" filter="url(#b1)"/>
<rect x="358.1" y="163.5" width="18.0" height="4.0" rx="2.0" fill="#000" opacity="0.45" filter="url(#b1)"/>
<rect x="386.2" y="155.5" width="16.0" height="13.0" rx="6.5" fill="#000" opacity="0.08" filter="url(#b1)"/>
<rect x="386.2" y="163.0" width="16.0" height="4.0" rx="2.0" fill="#000" opacity="0.13" filter="url(#b1)"/>
<rect x="413.7" y="155.5" width="15.0" height="13.0" rx="6.5" fill="#000" opacity="0.08" filter="url(#b1)"/>
<rect x="413.7" y="161.5" width="15.0" height="5.0" rx="2.5" fill="#000" opacity="0.13" filter="url(#b1)"/>
</g>
<rect x="107.6" y="154.3" width="327.85" height="19.20" fill="none" stroke="#000" stroke-width="2.6"/>
<text transform="translate(48.00 168.60)" font-size="9.3" font-weight="bold" text-anchor="start" fill="#000" textLength="51.4" lengthAdjust="spacingAndGlyphs">p-p38MAPK</text>
<text transform="translate(443.50 168.60)" font-size="9.4" font-weight="bold" text-anchor="start" fill="#000" textLength="29.2" lengthAdjust="spacingAndGlyphs">43 kDa</text>
<clipPath id="c4"><rect x="107.6" y="178.5" width="327.85" height="25.10"/></clipPath>
<rect x="108.19999999999999" y="179.3" width="329.05" height="26.50" fill="#555" opacity="0.45" filter="url(#b1)"/>
<rect x="107.6" y="178.5" width="327.85" height="25.10" fill="#f0f0f0"/>
<g clip-path="url(#c4)">
<rect x="112.8" y="175.5" width="21" height="31.099999999999994" fill="#000" opacity="0.48" filter="url(#b1)"/>
<rect x="112.8" y="184.7" width="21.0" height="5.0" rx="2.5" fill="#000" opacity="0.76" filter="url(#b1)"/>
<rect x="112.8" y="179.7" width="21.0" height="6.0" rx="3.0" fill="#000" opacity="0.144" filter="url(#b2)"/>
<rect x="112.3" y="196.5" width="22.0" height="10.0" rx="5.0" fill="#000" opacity="0.62" filter="url(#b2)"/>
<rect x="140.3" y="175.5" width="19" height="31.099999999999994" fill="#000" opacity="0.5" filter="url(#b1)"/>
<rect x="140.3" y="185.1" width="19.0" height="5.0" rx="2.5" fill="#000" opacity="0.76" filter="url(#b1)"/>
<rect x="140.3" y="180.1" width="19.0" height="6.0" rx="3.0" fill="#000" opacity="0.144" filter="url(#b2)"/>
<rect x="139.8" y="196.5" width="20.0" height="10.0" rx="5.0" fill="#000" opacity="0.4" filter="url(#b2)"/>
<rect x="167.8" y="175.5" width="18" height="31.099999999999994" fill="#000" opacity="0.5" filter="url(#b1)"/>
<rect x="167.8" y="185.8" width="18.0" height="5.0" rx="2.5" fill="#000" opacity="0.76" filter="url(#b1)"/>
<rect x="167.8" y="180.8" width="18.0" height="6.0" rx="3.0" fill="#000" opacity="0.144" filter="url(#b2)"/>
<rect x="167.3" y="196.5" width="19.0" height="10.0" rx="5.0" fill="#000" opacity="0.3" filter="url(#b2)"/>
<rect x="194.4" y="175.5" width="19" height="31.099999999999994" fill="#000" opacity="0.5" filter="url(#b1)"/>
<rect x="194.4" y="186.5" width="19.0" height="5.0" rx="2.5" fill="#000" opacity="0.7789999999999999" filter="url(#b1)"/>
<rect x="194.4" y="181.5" width="19.0" height="6.0" rx="3.0" fill="#000" opacity="0.14759999999999998" filter="url(#b2)"/>
<rect x="193.9" y="196.5" width="20.0" height="10.0" rx="5.0" fill="#000" opacity="0.3" filter="url(#b2)"/>
<rect x="219.8" y="175.5" width="19" height="31.099999999999994" fill="#000" opacity="0.36" filter="url(#b1)"/>
<rect x="219.8" y="187.3" width="19.0" height="5.0" rx="2.5" fill="#000" opacity="0.589" filter="url(#b1)"/>
<rect x="219.8" y="182.3" width="19.0" height="6.0" rx="3.0" fill="#000" opacity="0.11159999999999999" filter="url(#b2)"/>
<rect x="219.3" y="196.5" width="20.0" height="10.0" rx="5.0" fill="#000" opacity="0.12" filter="url(#b2)"/>
<rect x="246.4" y="175.5" width="21" height="31.099999999999994" fill="#000" opacity="0.34" filter="url(#b1)"/>
<rect x="246.4" y="188.0" width="21.0" height="5.0" rx="2.5" fill="#000" opacity="0.57" filter="url(#b1)"/>
<rect x="246.4" y="183.0" width="21.0" height="6.0" rx="3.0" fill="#000" opacity="0.108" filter="url(#b2)"/>
<rect x="245.9" y="196.5" width="22.0" height="10.0" rx="5.0" fill="#000" opacity="0.12" filter="url(#b2)"/>
<rect x="274.4" y="175.5" width="22" height="31.099999999999994" fill="#000" opacity="0.5" filter="url(#b1)"/>
<rect x="274.4" y="190.3" width="22.0" height="5.0" rx="2.5" fill="#000" opacity="0.76" filter="url(#b1)"/>
<rect x="274.4" y="185.3" width="22.0" height="6.0" rx="3.0" fill="#000" opacity="0.144" filter="url(#b2)"/>
<rect x="273.9" y="196.5" width="23.0" height="10.0" rx="5.0" fill="#000" opacity="0.1" filter="url(#b2)"/>
<rect x="303.0" y="175.5" width="22" height="31.099999999999994" fill="#000" opacity="0.4" filter="url(#b1)"/>
<rect x="303.0" y="192.5" width="22.0" height="5.0" rx="2.5" fill="#000" opacity="0.2375" filter="url(#b1)"/>
<rect x="303.0" y="187.5" width="22.0" height="6.0" rx="3.0" fill="#000" opacity="0.045" filter="url(#b2)"/>
<rect x="302.5" y="196.5" width="23.0" height="10.0" rx="5.0" fill="#000" opacity="0.1" filter="url(#b2)"/>
<rect x="331.7" y="175.5" width="19" height="31.099999999999994" fill="#000" opacity="0.42" filter="url(#b1)"/>
<rect x="331.7" y="192.5" width="19.0" height="5.0" rx="2.5" fill="#000" opacity="0.1425" filter="url(#b1)"/>
<rect x="331.7" y="187.5" width="19.0" height="6.0" rx="3.0" fill="#000" opacity="0.027" filter="url(#b2)"/>
<rect x="331.2" y="196.5" width="20.0" height="10.0" rx="5.0" fill="#000" opacity="0.12" filter="url(#b2)"/>
<rect x="358.2" y="175.5" width="20" height="31.099999999999994" fill="#000" opacity="0.42" filter="url(#b1)"/>
<rect x="358.2" y="192.5" width="20.0" height="5.0" rx="2.5" fill="#000" opacity="0.475" filter="url(#b1)"/>
<rect x="358.2" y="187.5" width="20.0" height="6.0" rx="3.0" fill="#000" opacity="0.09" filter="url(#b2)"/>
<rect x="357.7" y="196.5" width="21.0" height="10.0" rx="5.0" fill="#000" opacity="0.1" filter="url(#b2)"/>
<rect x="384.6" y="175.5" width="18" height="31.099999999999994" fill="#000" opacity="0.36" filter="url(#b1)"/>
<rect x="384.6" y="192.5" width="18.0" height="5.0" rx="2.5" fill="#000" opacity="0.11399999999999999" filter="url(#b1)"/>
<rect x="384.6" y="187.5" width="18.0" height="6.0" rx="3.0" fill="#000" opacity="0.021599999999999998" filter="url(#b2)"/>
<rect x="384.1" y="196.5" width="19.0" height="10.0" rx="5.0" fill="#000" opacity="0.08" filter="url(#b2)"/>
<rect x="408.2" y="175.5" width="26" height="31.099999999999994" fill="#000" opacity="0.14" filter="url(#b1)"/>
<rect x="408.2" y="179.0" width="26.0" height="5.0" rx="2.5" fill="#000" opacity="0.475" filter="url(#b1)"/>
<rect x="408.2" y="174.0" width="26.0" height="6.0" rx="3.0" fill="#000" opacity="0.09" filter="url(#b2)"/>
<circle cx="339.0" cy="184.2" r="0.66" fill="#000" opacity="0.53"/>
<circle cx="361.3" cy="188.7" r="0.33" fill="#000" opacity="0.73"/>
<circle cx="308.9" cy="190.1" r="0.34" fill="#000" opacity="0.54"/>
<circle cx="349.6" cy="198.4" r="0.37" fill="#000" opacity="0.60"/>
<circle cx="370.9" cy="200.9" r="0.62" fill="#000" opacity="0.68"/>
<circle cx="407.5" cy="182.0" r="0.77" fill="#000" opacity="0.63"/>
<circle cx="320.1" cy="183.5" r="0.47" fill="#000" opacity="0.87"/>
<circle cx="324.0" cy="193.2" r="0.65" fill="#000" opacity="0.67"/>
<circle cx="362.5" cy="182.3" r="0.33" fill="#000" opacity="0.59"/>
<circle cx="376.4" cy="190.0" r="0.47" fill="#000" opacity="0.76"/>
<circle cx="352.6" cy="187.3" r="0.74" fill="#000" opacity="0.81"/>
<circle cx="330.6" cy="193.1" r="0.59" fill="#000" opacity="0.89"/>
<circle cx="381.6" cy="187.0" r="0.84" fill="#000" opacity="0.55"/>
<circle cx="348.9" cy="196.9" r="0.38" fill="#000" opacity="0.72"/>
<circle cx="309.1" cy="195.0" r="0.72" fill="#000" opacity="0.76"/>
<circle cx="396.9" cy="187.6" r="0.68" fill="#000" opacity="0.77"/>
<circle cx="365.9" cy="190.6" r="0.76" fill="#000" opacity="0.93"/>
<circle cx="354.8" cy="194.9" r="0.33" fill="#000" opacity="0.82"/>
<circle cx="372.9" cy="201.9" r="0.75" fill="#000" opacity="0.63"/>
<circle cx="345.5" cy="195.0" r="0.31" fill="#000" opacity="0.71"/>
<circle cx="322.6" cy="183.5" r="0.33" fill="#000" opacity="0.85"/>
<circle cx="318.6" cy="186.2" r="0.52" fill="#000" opacity="0.89"/>
<circle cx="313.5" cy="190.4" r="0.60" fill="#000" opacity="0.90"/>
<circle cx="391.0" cy="199.1" r="0.45" fill="#000" opacity="0.69"/>
<circle cx="342.7" cy="199.6" r="0.83" fill="#000" opacity="0.57"/>
<circle cx="323.5" cy="185.9" r="0.43" fill="#000" opacity="0.72"/>
<circle cx="366.9" cy="186.5" r="0.30" fill="#000" opacity="0.69"/>
<circle cx="343.8" cy="192.9" r="0.82" fill="#000" opacity="0.81"/>
<circle cx="359.1" cy="194.0" r="0.67" fill="#000" opacity="0.52"/>
<circle cx="399.5" cy="197.4" r="0.78" fill="#000" opacity="0.86"/>
<circle cx="346.2" cy="189.4" r="0.36" fill="#000" opacity="0.79"/>
<circle cx="311.5" cy="182.4" r="0.41" fill="#000" opacity="0.57"/>
<circle cx="340.7" cy="182.1" r="0.30" fill="#000" opacity="0.57"/>
<circle cx="315.7" cy="188.6" r="0.31" fill="#000" opacity="0.89"/>
<circle cx="369.5" cy="184.1" r="0.44" fill="#000" opacity="0.66"/>
<circle cx="343.2" cy="183.6" r="0.77" fill="#000" opacity="0.95"/>
<circle cx="353.9" cy="191.2" r="0.35" fill="#000" opacity="0.55"/>
<circle cx="341.0" cy="186.6" r="0.76" fill="#000" opacity="0.57"/>
<circle cx="307.4" cy="201.0" r="0.59" fill="#000" opacity="0.57"/>
<circle cx="362.0" cy="181.6" r="0.59" fill="#000" opacity="0.94"/>
<circle cx="395.6" cy="195.6" r="0.44" fill="#000" opacity="0.67"/>
<circle cx="322.5" cy="197.2" r="0.59" fill="#000" opacity="0.85"/>
<circle cx="339.6" cy="185.7" r="0.75" fill="#000" opacity="0.94"/>
<circle cx="394.5" cy="197.9" r="0.75" fill="#000" opacity="0.83"/>
<circle cx="328.8" cy="191.9" r="0.50" fill="#000" opacity="0.51"/>
<circle cx="307.9" cy="186.9" r="0.44" fill="#000" opacity="0.81"/>
<circle cx="405.4" cy="190.4" r="0.82" fill="#000" opacity="0.94"/>
<circle cx="405.3" cy="188.7" r="0.42" fill="#000" opacity="0.60"/>
<circle cx="325.7" cy="185.3" r="0.64" fill="#000" opacity="0.91"/>
<circle cx="393.2" cy="191.1" r="0.66" fill="#000" opacity="0.86"/>
<circle cx="313.9" cy="194.9" r="0.80" fill="#000" opacity="0.85"/>
<circle cx="383.8" cy="191.0" r="0.40" fill="#000" opacity="0.86"/>
<circle cx="339.9" cy="197.8" r="0.83" fill="#000" opacity="0.68"/>
<circle cx="347.1" cy="200.9" r="0.70" fill="#000" opacity="0.58"/>
<circle cx="318.3" cy="184.2" r="0.80" fill="#000" opacity="0.86"/>
</g>
<rect x="107.6" y="178.5" width="327.85" height="25.10" fill="none" stroke="#000" stroke-width="2.6"/>
<text transform="translate(69.00 195.20)" font-size="9.3" font-weight="bold" text-anchor="start" fill="#000" textLength="30.4" lengthAdjust="spacingAndGlyphs">p-c-Jun</text>
<text transform="translate(443.50 195.20)" font-size="9.4" font-weight="bold" text-anchor="start" fill="#000" textLength="29.2" lengthAdjust="spacingAndGlyphs">48 kDa</text>
<clipPath id="c5"><rect x="107.6" y="209.0" width="327.85" height="32.20"/></clipPath>
<rect x="108.19999999999999" y="209.8" width="329.05" height="33.60" fill="#555" opacity="0.45" filter="url(#b1)"/>
<rect x="107.6" y="209.0" width="327.85" height="32.20" fill="#e9e9e9"/>
<g clip-path="url(#c5)">
<rect x="111.7" y="218.2" width="26.3" height="12.4" rx="6.2" fill="#000" opacity="1" filter="url(#b0)"/>
<rect x="111.2" y="217.2" width="27.3" height="14.4" rx="7.2" fill="#000" opacity="0.5" filter="url(#b1)"/>
<rect x="136.5" y="219.9" width="17.5" height="9.3" rx="4.7" fill="#000" opacity="1" filter="url(#b0)"/>
<rect x="136.0" y="218.9" width="18.5" height="11.3" rx="5.7" fill="#000" opacity="0.5" filter="url(#b1)"/>
<rect x="157.5" y="222.1" width="7.0" height="6.5" rx="3.2" fill="#000" opacity="1" filter="url(#b0)"/>
<rect x="157.0" y="221.1" width="8.0" height="8.5" rx="4.0" fill="#000" opacity="0.5" filter="url(#b1)"/>
<rect x="165.5" y="220.8" width="25.5" height="11.7" rx="5.8" fill="#000" opacity="1" filter="url(#b0)"/>
<rect x="165.0" y="219.8" width="26.5" height="13.7" rx="6.8" fill="#000" opacity="0.5" filter="url(#b1)"/>
<rect x="189.5" y="219.4" width="27.0" height="11.0" rx="5.5" fill="#000" opacity="1" filter="url(#b0)"/>
<rect x="189.0" y="218.4" width="28.0" height="13.0" rx="6.5" fill="#000" opacity="0.5" filter="url(#b1)"/>
<rect x="216.7" y="220.5" width="26.3" height="11.0" rx="5.5" fill="#000" opacity="1" filter="url(#b0)"/>
<rect x="216.2" y="219.5" width="27.3" height="13.0" rx="6.5" fill="#000" opacity="0.5" filter="url(#b1)"/>
<rect x="242.2" y="219.4" width="27.3" height="10.0" rx="5.0" fill="#000" opacity="1" filter="url(#b0)"/>
<rect x="241.7" y="218.4" width="28.3" height="12.0" rx="6.0" fill="#000" opacity="0.5" filter="url(#b1)"/>
<rect x="268.5" y="220.5" width="24.5" height="11.0" rx="5.5" fill="#000" opacity="1" filter="url(#b0)"/>
<rect x="268.0" y="219.5" width="25.5" height="13.0" rx="6.5" fill="#000" opacity="0.5" filter="url(#b1)"/>
<rect x="292.2" y="218.3" width="29.4" height="11.0" rx="5.5" fill="#000" opacity="1" filter="url(#b0)"/>
<rect x="291.7" y="217.3" width="30.4" height="13.0" rx="6.5" fill="#000" opacity="0.5" filter="url(#b1)"/>
<rect x="321.0" y="219.4" width="27.2" height="10.0" rx="5.0" fill="#000" opacity="1" filter="url(#b0)"/>
<rect x="320.5" y="218.4" width="28.2" height="12.0" rx="6.0" fill="#000" opacity="0.5" filter="url(#b1)"/>
<rect x="347.6" y="220.0" width="28.0" height="12.0" rx="6.0" fill="#000" opacity="1" filter="url(#b0)"/>
<rect x="347.1" y="219.0" width="29.0" height="14.0" rx="7.0" fill="#000" opacity="0.5" filter="url(#b1)"/>
<rect x="374.4" y="217.6" width="27.6" height="11.0" rx="5.5" fill="#000" opacity="1" filter="url(#b0)"/>
<rect x="373.9" y="216.6" width="28.6" height="13.0" rx="6.5" fill="#000" opacity="0.5" filter="url(#b1)"/>
<rect x="404.2" y="219.6" width="27.2" height="11.5" rx="5.8" fill="#000" opacity="1" filter="url(#b0)"/>
<rect x="403.7" y="218.6" width="28.2" height="13.5" rx="6.8" fill="#000" opacity="0.5" filter="url(#b1)"/>
</g>
<rect x="107.6" y="209.0" width="327.85" height="32.20" fill="none" stroke="#000" stroke-width="2.6"/>
<text transform="translate(70.00 228.10)" font-size="9.3" font-weight="bold" text-anchor="start" fill="#000" textLength="29.4" lengthAdjust="spacingAndGlyphs">β-actin</text>
<text transform="translate(443.50 228.10)" font-size="9.4" font-weight="bold" text-anchor="start" fill="#000" textLength="29.2" lengthAdjust="spacingAndGlyphs">42 kDa</text>
</g>
<g id="F">
<text transform="translate(92.10 531.90)" font-size="23.4" font-weight="bold" text-anchor="start" fill="#000" >F</text>
<text transform="translate(165.92 554.13) rotate(-49.5)" font-size="9.3" font-weight="bold" text-anchor="start" fill="#000" textLength="33.53" lengthAdjust="spacingAndGlyphs">Normal</text>
<text transform="translate(193.34 552.85) rotate(-49.5)" font-size="9.3" font-weight="bold" text-anchor="start" fill="#000" textLength="102.24" lengthAdjust="spacingAndGlyphs">Normal + 10 mg/ml IVIg</text>
<text transform="translate(218.76 554.78) rotate(-49.5)" font-size="9.3" font-weight="bold" text-anchor="start" fill="#000" textLength="76.37" lengthAdjust="spacingAndGlyphs">OGD 12 + Vehicle</text>
<text transform="translate(245.46 554.83) rotate(-49.5)" font-size="9.3" font-weight="bold" text-anchor="start" fill="#000" textLength="30.15" lengthAdjust="spacingAndGlyphs">OGD 6</text>
<text transform="translate(270.52 555.44) rotate(-49.5)" font-size="9.3" font-weight="bold" text-anchor="start" fill="#000" textLength="95.81" lengthAdjust="spacingAndGlyphs">OGD 6 + 5 mg/ml IVIg</text>
<text transform="translate(296.24 552.17) rotate(-49.5)" font-size="9.3" font-weight="bold" text-anchor="start" fill="#000" textLength="98.12" lengthAdjust="spacingAndGlyphs">OGD 6 + 10 mg/ml IVIg</text>
<text transform="translate(323.24 555.00) rotate(-49.5)" font-size="9.3" font-weight="bold" text-anchor="start" fill="#000" textLength="32.52" lengthAdjust="spacingAndGlyphs">OGD 12</text>
<text transform="translate(350.56 551.17) rotate(-49.5)" font-size="9.3" font-weight="bold" text-anchor="start" fill="#000" textLength="96.52" lengthAdjust="spacingAndGlyphs">OGD 12 + 5 mg/ml IVIg</text>
<text transform="translate(378.58 551.77) rotate(-49.5)" font-size="9.3" font-weight="bold" text-anchor="start" fill="#000" textLength="100.15" lengthAdjust="spacingAndGlyphs">OGD 12 + 10 mg/ml IVIg</text>
<clipPath id="c6"><rect x="148.5" y="563.6" width="252.00" height="23.90"/></clipPath>
<rect x="149.1" y="564.4" width="253.20" height="25.30" fill="#555" opacity="0.45" filter="url(#b1)"/>
<rect x="148.5" y="563.6" width="252.00" height="23.90" fill="#e6e6e6"/>
<g clip-path="url(#c6)">
<rect x="184.2" y="566.5" width="17.0" height="6.0" rx="3.0" fill="#000" opacity="0.22" filter="url(#b1)"/>
<rect x="160.0" y="572.9" width="8.0" height="2.0" rx="1.0" fill="#000" opacity="0.15" filter="url(#b0)"/>
<rect x="159.0" y="571.4" width="10.0" height="5.0" rx="2.5" fill="#000" opacity="0.0375" filter="url(#b1)"/>
<rect x="167.0" y="572.1" width="8.4" height="2.8" rx="1.4" fill="#000" opacity="0.62" filter="url(#b0)"/>
<rect x="166.0" y="570.6" width="10.4" height="5.8" rx="2.9" fill="#000" opacity="0.155" filter="url(#b1)"/>
<rect x="184.7" y="572.6" width="16.0" height="2.6" rx="1.3" fill="#000" opacity="0.45" filter="url(#b0)"/>
<rect x="183.7" y="571.1" width="18.0" height="5.6" rx="2.8" fill="#000" opacity="0.1125" filter="url(#b1)"/>
<rect x="211.7" y="571.6" width="16.1" height="3.2" rx="1.6" fill="#000" opacity="0.95" filter="url(#b0)"/>
<rect x="210.7" y="570.1" width="18.1" height="6.2" rx="3.1" fill="#000" opacity="0.2375" filter="url(#b1)"/>
<rect x="236.2" y="572.1" width="18.6" height="3.8" rx="1.9" fill="#000" opacity="0.97" filter="url(#b0)"/>
<rect x="235.2" y="570.6" width="20.6" height="6.8" rx="3.4" fill="#000" opacity="0.2425" filter="url(#b1)"/>
<rect x="263.2" y="573.7" width="18.2" height="2.8" rx="1.4" fill="#000" opacity="0.62" filter="url(#b0)"/>
<rect x="262.2" y="572.2" width="20.2" height="5.8" rx="2.9" fill="#000" opacity="0.155" filter="url(#b1)"/>
<rect x="292.8" y="575.4" width="14.9" height="2.6" rx="1.3" fill="#000" opacity="0.35" filter="url(#b0)"/>
<rect x="291.8" y="573.9" width="16.9" height="5.6" rx="2.8" fill="#000" opacity="0.0875" filter="url(#b1)"/>
<rect x="316.5" y="573.7" width="19.3" height="4.2" rx="2.1" fill="#000" opacity="0.98" filter="url(#b0)"/>
<rect x="315.5" y="572.2" width="21.3" height="7.2" rx="3.6" fill="#000" opacity="0.245" filter="url(#b1)"/>
<rect x="343.7" y="575.1" width="18.4" height="3.2" rx="1.6" fill="#000" opacity="0.82" filter="url(#b0)"/>
<rect x="342.7" y="573.6" width="20.4" height="6.2" rx="3.1" fill="#000" opacity="0.205" filter="url(#b1)"/>
<rect x="370.0" y="576.0" width="5.0" height="2.5" rx="1.2" fill="#000" opacity="0.15" filter="url(#b0)"/>
<rect x="369.0" y="574.5" width="7.0" height="5.5" rx="2.8" fill="#000" opacity="0.0375" filter="url(#b1)"/>
</g>
<rect x="148.5" y="563.6" width="252.00" height="23.90" fill="none" stroke="#000" stroke-width="2.6"/>
<text transform="translate(115.70 577.80)" font-size="9.3" font-weight="bold" text-anchor="start" fill="#000" textLength="24.6" lengthAdjust="spacingAndGlyphs">p-p65</text>
<text transform="translate(408.40 577.80)" font-size="9.4" font-weight="bold" text-anchor="start" fill="#000" textLength="29.2" lengthAdjust="spacingAndGlyphs">65 kDa</text>
<clipPath id="c7"><rect x="148.5" y="594.1" width="252.00" height="24.30"/></clipPath>
<rect x="149.1" y="594.9" width="253.20" height="25.70" fill="#555" opacity="0.45" filter="url(#b1)"/>
<rect x="148.5" y="594.1" width="252.00" height="24.30" fill="#d2d2d2"/>
<g clip-path="url(#c7)">
<ellipse cx="169.5" cy="606.5" rx="13.5" ry="15" fill="#343434" filter="url(#b0)"/>
<ellipse cx="195.5" cy="606.5" rx="12.8" ry="15" fill="#343434" filter="url(#b0)"/>
<rect x="166" y="590" width="32" height="34" fill="#343434"/>
<path d="M183 594C181.5 600 182 612 184 619" stroke="#151515" stroke-width="0.9" fill="none" filter="url(#b0)"/>
<rect x="210.9" y="591.1" width="20.2" height="30.299999999999955" fill="#000" opacity="0.3" filter="url(#b1)"/>
<rect x="210.9" y="601.6" width="20.2" height="5.4" rx="2.7" fill="#000" opacity="0.72" filter="url(#b1)"/>
<rect x="211.4" y="612.1" width="19.2" height="5.0" rx="2.5" fill="#000" opacity="0.3" filter="url(#b1)"/>
<rect x="237.9" y="591.1" width="19.4" height="30.299999999999955" fill="#000" opacity="0.5" filter="url(#b1)"/>
<rect x="237.9" y="601.6" width="19.4" height="5.4" rx="2.7" fill="#000" opacity="0.95" filter="url(#b1)"/>
<rect x="238.4" y="612.1" width="18.4" height="5.0" rx="2.5" fill="#000" opacity="0.85" filter="url(#b1)"/>
<rect x="263.0" y="591.1" width="20.0" height="30.299999999999955" fill="#000" opacity="0.48" filter="url(#b1)"/>
<rect x="263.0" y="601.2" width="20.0" height="5.4" rx="2.7" fill="#000" opacity="0.92" filter="url(#b1)"/>
<rect x="263.5" y="612.1" width="19.0" height="5.0" rx="2.5" fill="#000" opacity="0.8" filter="url(#b1)"/>
<rect x="292.0" y="591.1" width="16.6" height="30.299999999999955" fill="#000" opacity="0.62" filter="url(#b1)"/>
<rect x="292.0" y="601.2" width="16.6" height="5.4" rx="2.7" fill="#000" opacity="0.55" filter="url(#b1)"/>
<rect x="292.5" y="612.1" width="15.6" height="5.0" rx="2.5" fill="#000" opacity="0.2" filter="url(#b1)"/>
<rect x="317.4" y="591.1" width="20.1" height="30.299999999999955" fill="#000" opacity="0.42" filter="url(#b1)"/>
<rect x="317.4" y="602.6" width="20.1" height="5.4" rx="2.7" fill="#000" opacity="0.8" filter="url(#b1)"/>
<rect x="317.9" y="612.1" width="19.1" height="5.0" rx="2.5" fill="#000" opacity="0.12" filter="url(#b1)"/>
<rect x="345.4" y="591.1" width="17.6" height="30.299999999999955" fill="#000" opacity="0.1" filter="url(#b1)"/>
<rect x="345.4" y="603.8" width="17.6" height="5.4" rx="2.7" fill="#000" opacity="0.28" filter="url(#b1)"/>
<rect x="371.8" y="591.1" width="19.2" height="30.299999999999955" fill="#000" opacity="0.12" filter="url(#b1)"/>
<rect x="371.8" y="605.0" width="19.2" height="5.4" rx="2.7" fill="#000" opacity="0.45" filter="url(#b1)"/>
</g>
<rect x="148.5" y="594.1" width="252.00" height="24.30" fill="none" stroke="#000" stroke-width="2.6"/>
<text transform="translate(115.40 610.10)" font-size="9.3" font-weight="bold" text-anchor="start" fill="#000" textLength="24.9" lengthAdjust="spacingAndGlyphs">p-JNK</text>
<text transform="translate(408.40 610.10)" font-size="9.4" font-weight="bold" text-anchor="start" fill="#000" textLength="29.2" lengthAdjust="spacingAndGlyphs">46 kDa</text>
<clipPath id="c8"><rect x="148.5" y="625.5" width="252.00" height="23.90"/></clipPath>
<rect x="149.1" y="626.3" width="253.20" height="25.30" fill="#555" opacity="0.45" filter="url(#b1)"/>
<rect x="148.5" y="625.5" width="252.00" height="23.90" fill="#ececec"/>
<g clip-path="url(#c8)">
<rect x="155.9" y="634.2" width="4.6" height="4.4" rx="2.2" fill="#000" opacity="0.6" filter="url(#b1)"/>
<rect x="170.4" y="633.9" width="5.0" height="4.6" rx="2.3" fill="#000" opacity="0.65" filter="url(#b1)"/>
<rect x="183.9" y="631.0" width="19.4" height="16.0" rx="8.0" fill="#000" opacity="0.3" filter="url(#b2)"/>
<rect x="183.9" y="632.6" width="19.4" height="6.6" rx="3.3" fill="#000" opacity="0.9" filter="url(#b1)"/>
<rect x="209.2" y="631.0" width="22.8" height="16.0" rx="8.0" fill="#000" opacity="0.25" filter="url(#b2)"/>
<rect x="209.2" y="632.4" width="22.8" height="6.2" rx="3.1" fill="#000" opacity="0.9" filter="url(#b1)"/>
<rect x="238.8" y="631.0" width="18.5" height="16.0" rx="8.0" fill="#000" opacity="0.3" filter="url(#b2)"/>
<rect x="238.8" y="633.7" width="18.5" height="5.0" rx="2.5" fill="#000" opacity="0.62" filter="url(#b1)"/>
<rect x="265.8" y="631.0" width="18.2" height="16.0" rx="8.0" fill="#000" opacity="0.2" filter="url(#b2)"/>
<rect x="265.8" y="633.5" width="18.2" height="4.6" rx="2.3" fill="#000" opacity="0.48" filter="url(#b1)"/>
<rect x="292.8" y="631.0" width="19.2" height="16.0" rx="8.0" fill="#000" opacity="0.1" filter="url(#b2)"/>
<rect x="292.8" y="632.1" width="19.2" height="5.0" rx="2.5" fill="#000" opacity="0.22" filter="url(#b1)"/>
<rect x="320.9" y="631.0" width="19.3" height="16.0" rx="8.0" fill="#000" opacity="0.22" filter="url(#b2)"/>
<rect x="320.9" y="633.0" width="19.3" height="6.0" rx="3.0" fill="#000" opacity="0.72" filter="url(#b1)"/>
<rect x="347.2" y="631.0" width="20.2" height="16.0" rx="8.0" fill="#000" opacity="0.2" filter="url(#b2)"/>
<rect x="347.2" y="634.4" width="20.2" height="5.0" rx="2.5" fill="#000" opacity="0.58" filter="url(#b1)"/>
<rect x="375.3" y="631.0" width="17.5" height="16.0" rx="8.0" fill="#000" opacity="0.06" filter="url(#b2)"/>
<rect x="375.3" y="633.5" width="17.5" height="5.0" rx="2.5" fill="#000" opacity="0.1" filter="url(#b1)"/>
</g>
<rect x="148.5" y="625.5" width="252.00" height="23.90" fill="none" stroke="#000" stroke-width="2.6"/>
<text transform="translate(88.90 642.40)" font-size="9.3" font-weight="bold" text-anchor="start" fill="#000" textLength="51.4" lengthAdjust="spacingAndGlyphs">p-p38MAPK</text>
<text transform="translate(408.40 642.40)" font-size="9.4" font-weight="bold" text-anchor="start" fill="#000" textLength="29.2" lengthAdjust="spacingAndGlyphs">43 kDa</text>
<clipPath id="c9"><rect x="148.5" y="656.4" width="252.00" height="24.10"/></clipPath>
<rect x="149.1" y="657.1999999999999" width="253.20" height="25.50" fill="#555" opacity="0.45" filter="url(#b1)"/>
<rect x="148.5" y="656.4" width="252.00" height="24.10" fill="#b2b2b2"/>
<g clip-path="url(#c9)">
<rect x="156.0" y="653.4" width="22.0" height="30.100000000000023" fill="#000" opacity="0.12" filter="url(#b2)"/>
<rect x="156.0" y="663.7" width="22.0" height="8.6" rx="4.3" fill="#000" opacity="0.95" filter="url(#b1)"/>
<rect x="183.5" y="653.4" width="18.9" height="30.100000000000023" fill="#000" opacity="0.4" filter="url(#b2)"/>
<rect x="183.5" y="663.3" width="18.9" height="8.6" rx="4.3" fill="#000" opacity="0.93" filter="url(#b1)"/>
<rect x="210.0" y="653.4" width="19.5" height="30.100000000000023" fill="#000" opacity="0.06" filter="url(#b2)"/>
<rect x="210.0" y="663.4" width="19.5" height="4.5" rx="2.2" fill="#000" opacity="0.32" filter="url(#b1)"/>
<rect x="238.8" y="653.4" width="19.4" height="30.100000000000023" fill="#000" opacity="0.12" filter="url(#b2)"/>
<rect x="238.8" y="663.3" width="19.4" height="7.0" rx="3.5" fill="#000" opacity="0.93" filter="url(#b1)"/>
<rect x="265.0" y="653.4" width="19.0" height="30.100000000000023" fill="#000" opacity="0.12" filter="url(#b2)"/>
<rect x="265.0" y="662.5" width="19.0" height="7.0" rx="3.5" fill="#000" opacity="0.82" filter="url(#b1)"/>
<rect x="292.8" y="653.4" width="19.2" height="30.100000000000023" fill="#000" opacity="0.12" filter="url(#b2)"/>
<rect x="292.8" y="662.7" width="19.2" height="6.4" rx="3.2" fill="#000" opacity="0.7" filter="url(#b1)"/>
<rect x="320.0" y="653.4" width="20.2" height="30.100000000000023" fill="#000" opacity="0.22" filter="url(#b2)"/>
<rect x="320.0" y="661.4" width="20.2" height="9.0" rx="4.5" fill="#000" opacity="0.98" filter="url(#b1)"/>
<rect x="347.2" y="653.4" width="18.4" height="30.100000000000023" fill="#000" opacity="0.25" filter="url(#b2)"/>
<rect x="347.2" y="662.7" width="18.4" height="8.0" rx="4.0" fill="#000" opacity="0.93" filter="url(#b1)"/>
<rect x="377.0" y="653.4" width="15.8" height="30.100000000000023" fill="#000" opacity="0.06" filter="url(#b2)"/>
<rect x="377.0" y="666.0" width="15.8" height="5.0" rx="2.5" fill="#000" opacity="0.36" filter="url(#b1)"/>
</g>
<rect x="148.5" y="656.4" width="252.00" height="24.10" fill="none" stroke="#000" stroke-width="2.6"/>
<text transform="translate(109.90 672.60)" font-size="9.3" font-weight="bold" text-anchor="start" fill="#000" textLength="30.4" lengthAdjust="spacingAndGlyphs">p-c-Jun</text>
<text transform="translate(408.40 672.60)" font-size="9.4" font-weight="bold" text-anchor="start" fill="#000" textLength="29.2" lengthAdjust="spacingAndGlyphs">48 kDa</text>
<clipPath id="c10"><rect x="148.5" y="686.5" width="252.00" height="17.50"/></clipPath>
<rect x="149.1" y="687.3" width="253.20" height="18.90" fill="#555" opacity="0.45" filter="url(#b1)"/>
<rect x="148.5" y="686.5" width="252.00" height="17.50" fill="#ededed"/>
<g clip-path="url(#c10)">
<rect x="152.6" y="691.8" width="23.7" height="6.4" rx="3.2" fill="#000" opacity="1" filter="url(#b0)"/>
<rect x="152.1" y="691.0" width="24.7" height="7.9" rx="4.0" fill="#000" opacity="0.4" filter="url(#b1)"/>
<rect x="181.3" y="691.8" width="22.8" height="6.4" rx="3.2" fill="#000" opacity="1" filter="url(#b0)"/>
<rect x="180.8" y="691.0" width="23.8" height="7.9" rx="4.0" fill="#000" opacity="0.4" filter="url(#b1)"/>
<rect x="208.3" y="692.3" width="20.7" height="5.8" rx="2.9" fill="#000" opacity="1" filter="url(#b0)"/>
<rect x="207.8" y="691.6" width="21.7" height="7.3" rx="3.6" fill="#000" opacity="0.4" filter="url(#b1)"/>
<rect x="233.2" y="691.8" width="25.3" height="7.4" rx="3.7" fill="#000" opacity="1" filter="url(#b0)"/>
<rect x="232.7" y="691.0" width="26.3" height="8.9" rx="4.5" fill="#000" opacity="0.4" filter="url(#b1)"/>
<rect x="263.2" y="692.4" width="20.8" height="5.8" rx="2.9" fill="#000" opacity="1" filter="url(#b0)"/>
<rect x="262.7" y="691.6" width="21.8" height="7.3" rx="3.6" fill="#000" opacity="0.4" filter="url(#b1)"/>
<rect x="288.4" y="692.7" width="21.1" height="5.2" rx="2.6" fill="#000" opacity="1" filter="url(#b0)"/>
<rect x="287.9" y="691.9" width="22.1" height="6.7" rx="3.4" fill="#000" opacity="0.4" filter="url(#b1)"/>
<rect x="314.2" y="692.0" width="24.2" height="6.5" rx="3.2" fill="#000" opacity="1" filter="url(#b0)"/>
<rect x="313.7" y="691.3" width="25.2" height="8.0" rx="4.0" fill="#000" opacity="0.4" filter="url(#b1)"/>
<rect x="343.3" y="691.6" width="25.3" height="7.5" rx="3.8" fill="#000" opacity="1" filter="url(#b0)"/>
<rect x="342.8" y="690.9" width="26.3" height="9.0" rx="4.5" fill="#000" opacity="0.4" filter="url(#b1)"/>
<rect x="373.9" y="693.1" width="22.1" height="5.2" rx="2.6" fill="#000" opacity="1" filter="url(#b0)"/>
<rect x="373.4" y="692.4" width="23.1" height="6.7" rx="3.4" fill="#000" opacity="0.4" filter="url(#b1)"/>
</g>
<rect x="148.5" y="686.5" width="252.00" height="17.50" fill="none" stroke="#000" stroke-width="2.6"/>
<text transform="translate(110.90 698.30)" font-size="9.3" font-weight="bold" text-anchor="start" fill="#000" textLength="29.4" lengthAdjust="spacingAndGlyphs">β-actin</text>
<text transform="translate(408.40 698.30)" font-size="9.4" font-weight="bold" text-anchor="start" fill="#000" textLength="29.2" lengthAdjust="spacingAndGlyphs">42 kDa</text>
</g>
</svg></body></html>
